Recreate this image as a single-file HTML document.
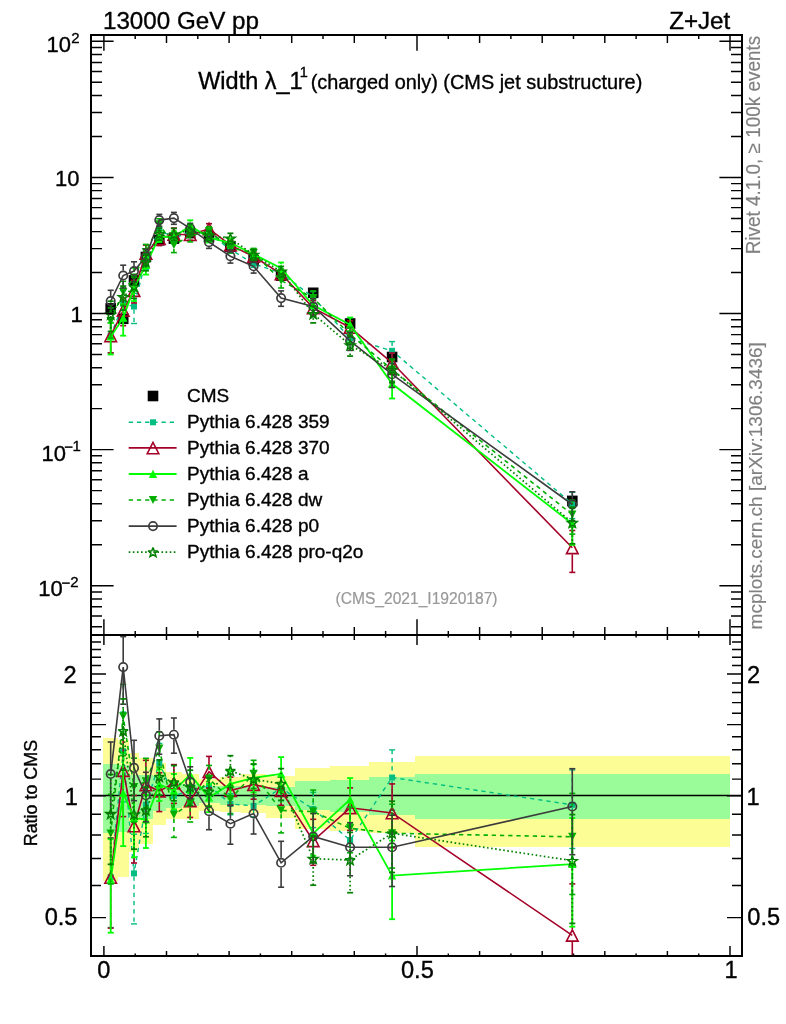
<!DOCTYPE html><html><head><meta charset="utf-8"><title>Width lambda_1^1 Z+Jet</title><style>html,body{margin:0;padding:0;background:#fff;}svg{display:block;will-change:transform;}text{stroke:#000;stroke-width:0.35px;}text.g1{stroke:#808080;stroke-width:0.15px;}text.g2{stroke:#999;stroke-width:0.2px;}</style></head><body><svg width="786" height="1024" viewBox="0 0 786 1024" font-family="'Liberation Sans', Arial, Helvetica, sans-serif">
<rect width="786" height="1024" fill="#fff"/>
<g shape-rendering="crispEdges">
<rect x="103.0" y="738.3" width="14.5" height="142.7" fill="#fdfd96"/>
<rect x="117.5" y="740.0" width="11.4" height="137.0" fill="#fdfd96"/>
<rect x="128.9" y="753.0" width="10.4" height="99.0" fill="#fdfd96"/>
<rect x="139.3" y="757.9" width="13.2" height="86.1" fill="#fdfd96"/>
<rect x="152.5" y="762.7" width="13.5" height="62.4" fill="#fdfd96"/>
<rect x="166.0" y="771.6" width="15.8" height="47.7" fill="#fdfd96"/>
<rect x="181.8" y="774.2" width="16.7" height="44.8" fill="#fdfd96"/>
<rect x="198.5" y="778.6" width="21.0" height="32.5" fill="#fdfd96"/>
<rect x="219.5" y="777.4" width="21.8" height="34.9" fill="#fdfd96"/>
<rect x="241.3" y="774.3" width="24.6" height="38.9" fill="#fdfd96"/>
<rect x="265.9" y="775.8" width="28.6" height="42.0" fill="#fdfd96"/>
<rect x="294.5" y="767.7" width="35.5" height="61.5" fill="#fdfd96"/>
<rect x="330.0" y="766.1" width="39.2" height="64.9" fill="#fdfd96"/>
<rect x="369.2" y="761.8" width="45.3" height="71.2" fill="#fdfd96"/>
<rect x="414.5" y="756.1" width="315.5" height="90.5" fill="#fdfd96"/>
<rect x="103.0" y="764.2" width="14.5" height="68.5" fill="#99fc99"/>
<rect x="117.5" y="765.0" width="11.4" height="67.0" fill="#99fc99"/>
<rect x="128.9" y="775.0" width="10.4" height="42.0" fill="#99fc99"/>
<rect x="139.3" y="774.8" width="13.2" height="43.9" fill="#99fc99"/>
<rect x="152.5" y="776.1" width="13.5" height="35.0" fill="#99fc99"/>
<rect x="166.0" y="781.6" width="15.8" height="26.3" fill="#99fc99"/>
<rect x="181.8" y="784.1" width="16.7" height="21.9" fill="#99fc99"/>
<rect x="198.5" y="786.0" width="21.0" height="17.4" fill="#99fc99"/>
<rect x="219.5" y="785.6" width="21.8" height="19.1" fill="#99fc99"/>
<rect x="241.3" y="785.7" width="24.6" height="19.1" fill="#99fc99"/>
<rect x="265.9" y="787.0" width="28.6" height="19.0" fill="#99fc99"/>
<rect x="294.5" y="780.9" width="35.5" height="29.3" fill="#99fc99"/>
<rect x="330.0" y="780.0" width="39.2" height="32.0" fill="#99fc99"/>
<rect x="369.2" y="777.1" width="45.3" height="38.1" fill="#99fc99"/>
<rect x="414.5" y="773.5" width="315.5" height="45.3" fill="#99fc99"/>
</g>
<line x1="91" y1="795.5" x2="742" y2="795.5" stroke="#000" stroke-width="1.3"/>
<defs><clipPath id="cm"><rect x="91" y="35" width="651" height="600"/></clipPath><clipPath id="cr"><rect x="91" y="635" width="651" height="321"/></clipPath></defs>
<g clip-path="url(#cm)">
<rect x="105.4" y="303.1" width="10.6" height="10.6" fill="#000"/>
<rect x="117.9" y="313.5" width="10.6" height="10.6" fill="#000"/>
<rect x="128.7" y="275.1" width="10.6" height="10.6" fill="#000"/>
<rect x="140.6" y="251.7" width="10.6" height="10.6" fill="#000"/>
<rect x="154.0" y="235.0" width="10.6" height="10.6" fill="#000"/>
<rect x="168.6" y="233.3" width="10.6" height="10.6" fill="#000"/>
<rect x="184.9" y="227.8" width="10.6" height="10.6" fill="#000"/>
<rect x="203.7" y="231.7" width="10.6" height="10.6" fill="#000"/>
<rect x="225.1" y="241.5" width="10.6" height="10.6" fill="#000"/>
<rect x="248.3" y="255.0" width="10.6" height="10.6" fill="#000"/>
<rect x="275.8" y="270.3" width="10.6" height="10.6" fill="#000"/>
<rect x="307.9" y="287.5" width="10.6" height="10.6" fill="#000"/>
<rect x="344.8" y="318.2" width="10.6" height="10.6" fill="#000"/>
<rect x="386.8" y="351.7" width="10.6" height="10.6" fill="#000"/>
<rect x="567.0" y="495.6" width="10.6" height="10.6" fill="#000"/>
<polyline points="110.7,335.7 123.2,303.8 134.0,306.5 145.9,260.1 159.3,229.4 173.9,238.6 190.2,231.3 209.0,233.5 230.4,249.5 253.6,263.7 281.1,273.0 313.2,297.3 350.1,338.4 392.1,350.8 572.3,503.9" fill="none" stroke="#00be82" stroke-width="1.4" stroke-dasharray="4.3,3.9"/>
<line x1="110.7" y1="322.5" x2="110.7" y2="332.7" stroke="#00be82" stroke-width="1.4" stroke-dasharray="4.3,3.9"/><line x1="110.7" y1="338.7" x2="110.7" y2="352.7" stroke="#00be82" stroke-width="1.4" stroke-dasharray="4.3,3.9"/><line x1="107.7" y1="322.5" x2="113.7" y2="322.5" stroke="#00be82" stroke-width="1.4"/><line x1="107.7" y1="352.7" x2="113.7" y2="352.7" stroke="#00be82" stroke-width="1.4"/>
<line x1="123.2" y1="290.6" x2="123.2" y2="300.8" stroke="#00be82" stroke-width="1.4" stroke-dasharray="4.3,3.9"/><line x1="123.2" y1="306.8" x2="123.2" y2="320.8" stroke="#00be82" stroke-width="1.4" stroke-dasharray="4.3,3.9"/><line x1="120.2" y1="290.6" x2="126.2" y2="290.6" stroke="#00be82" stroke-width="1.4"/><line x1="120.2" y1="320.8" x2="126.2" y2="320.8" stroke="#00be82" stroke-width="1.4"/>
<line x1="134.0" y1="293.3" x2="134.0" y2="303.5" stroke="#00be82" stroke-width="1.4" stroke-dasharray="4.3,3.9"/><line x1="134.0" y1="309.5" x2="134.0" y2="323.5" stroke="#00be82" stroke-width="1.4" stroke-dasharray="4.3,3.9"/><line x1="131.0" y1="293.3" x2="137.0" y2="293.3" stroke="#00be82" stroke-width="1.4"/><line x1="131.0" y1="323.5" x2="137.0" y2="323.5" stroke="#00be82" stroke-width="1.4"/>
<line x1="145.9" y1="251.8" x2="145.9" y2="257.1" stroke="#00be82" stroke-width="1.4" stroke-dasharray="4.3,3.9"/><line x1="145.9" y1="263.1" x2="145.9" y2="269.7" stroke="#00be82" stroke-width="1.4" stroke-dasharray="4.3,3.9"/><line x1="142.9" y1="251.8" x2="148.9" y2="251.8" stroke="#00be82" stroke-width="1.4"/><line x1="142.9" y1="269.7" x2="148.9" y2="269.7" stroke="#00be82" stroke-width="1.4"/>
<line x1="159.3" y1="222.7" x2="159.3" y2="226.4" stroke="#00be82" stroke-width="1.4" stroke-dasharray="4.3,3.9"/><line x1="159.3" y1="232.4" x2="159.3" y2="236.9" stroke="#00be82" stroke-width="1.4" stroke-dasharray="4.3,3.9"/><line x1="156.3" y1="222.7" x2="162.3" y2="222.7" stroke="#00be82" stroke-width="1.4"/><line x1="156.3" y1="236.9" x2="162.3" y2="236.9" stroke="#00be82" stroke-width="1.4"/>
<line x1="173.9" y1="234.1" x2="173.9" y2="235.6" stroke="#00be82" stroke-width="1.4" stroke-dasharray="4.3,3.9"/><line x1="173.9" y1="241.6" x2="173.9" y2="243.5" stroke="#00be82" stroke-width="1.4" stroke-dasharray="4.3,3.9"/><line x1="170.9" y1="234.1" x2="176.9" y2="234.1" stroke="#00be82" stroke-width="1.4"/><line x1="170.9" y1="243.5" x2="176.9" y2="243.5" stroke="#00be82" stroke-width="1.4"/>
<line x1="190.2" y1="227.3" x2="190.2" y2="228.3" stroke="#00be82" stroke-width="1.4" stroke-dasharray="4.3,3.9"/><line x1="190.2" y1="234.3" x2="190.2" y2="235.6" stroke="#00be82" stroke-width="1.4" stroke-dasharray="4.3,3.9"/><line x1="187.2" y1="227.3" x2="193.2" y2="227.3" stroke="#00be82" stroke-width="1.4"/><line x1="187.2" y1="235.6" x2="193.2" y2="235.6" stroke="#00be82" stroke-width="1.4"/>
<line x1="209.0" y1="230.1" x2="209.0" y2="230.5" stroke="#00be82" stroke-width="1.4" stroke-dasharray="4.3,3.9"/><line x1="209.0" y1="236.5" x2="209.0" y2="237.2" stroke="#00be82" stroke-width="1.4" stroke-dasharray="4.3,3.9"/><line x1="206.0" y1="230.1" x2="212.0" y2="230.1" stroke="#00be82" stroke-width="1.4"/><line x1="206.0" y1="237.2" x2="212.0" y2="237.2" stroke="#00be82" stroke-width="1.4"/>
<line x1="230.4" y1="246.1" x2="230.4" y2="246.5" stroke="#00be82" stroke-width="1.4" stroke-dasharray="4.3,3.9"/><line x1="230.4" y1="252.5" x2="230.4" y2="253.2" stroke="#00be82" stroke-width="1.4" stroke-dasharray="4.3,3.9"/><line x1="227.4" y1="246.1" x2="233.4" y2="246.1" stroke="#00be82" stroke-width="1.4"/><line x1="227.4" y1="253.2" x2="233.4" y2="253.2" stroke="#00be82" stroke-width="1.4"/>
<line x1="253.6" y1="260.3" x2="253.6" y2="260.7" stroke="#00be82" stroke-width="1.4" stroke-dasharray="4.3,3.9"/><line x1="253.6" y1="266.7" x2="253.6" y2="267.4" stroke="#00be82" stroke-width="1.4" stroke-dasharray="4.3,3.9"/><line x1="250.6" y1="260.3" x2="256.6" y2="260.3" stroke="#00be82" stroke-width="1.4"/><line x1="250.6" y1="267.4" x2="256.6" y2="267.4" stroke="#00be82" stroke-width="1.4"/>
<line x1="281.1" y1="269.0" x2="281.1" y2="270.0" stroke="#00be82" stroke-width="1.4" stroke-dasharray="4.3,3.9"/><line x1="281.1" y1="276.0" x2="281.1" y2="277.2" stroke="#00be82" stroke-width="1.4" stroke-dasharray="4.3,3.9"/><line x1="278.1" y1="269.0" x2="284.1" y2="269.0" stroke="#00be82" stroke-width="1.4"/><line x1="278.1" y1="277.2" x2="284.1" y2="277.2" stroke="#00be82" stroke-width="1.4"/>
<line x1="313.2" y1="291.6" x2="313.2" y2="294.3" stroke="#00be82" stroke-width="1.4" stroke-dasharray="4.3,3.9"/><line x1="313.2" y1="300.3" x2="313.2" y2="303.5" stroke="#00be82" stroke-width="1.4" stroke-dasharray="4.3,3.9"/><line x1="310.2" y1="291.6" x2="316.2" y2="291.6" stroke="#00be82" stroke-width="1.4"/><line x1="310.2" y1="303.5" x2="316.2" y2="303.5" stroke="#00be82" stroke-width="1.4"/>
<line x1="350.1" y1="332.7" x2="350.1" y2="335.4" stroke="#00be82" stroke-width="1.4" stroke-dasharray="4.3,3.9"/><line x1="350.1" y1="341.4" x2="350.1" y2="344.6" stroke="#00be82" stroke-width="1.4" stroke-dasharray="4.3,3.9"/><line x1="347.1" y1="332.7" x2="353.1" y2="332.7" stroke="#00be82" stroke-width="1.4"/><line x1="347.1" y1="344.6" x2="353.1" y2="344.6" stroke="#00be82" stroke-width="1.4"/>
<line x1="392.1" y1="341.6" x2="392.1" y2="347.8" stroke="#00be82" stroke-width="1.4" stroke-dasharray="4.3,3.9"/><line x1="392.1" y1="353.8" x2="392.1" y2="361.9" stroke="#00be82" stroke-width="1.4" stroke-dasharray="4.3,3.9"/><line x1="389.1" y1="341.6" x2="395.1" y2="341.6" stroke="#00be82" stroke-width="1.4"/><line x1="389.1" y1="361.9" x2="395.1" y2="361.9" stroke="#00be82" stroke-width="1.4"/>
<line x1="572.3" y1="492.2" x2="572.3" y2="500.9" stroke="#00be82" stroke-width="1.4" stroke-dasharray="4.3,3.9"/><line x1="572.3" y1="506.9" x2="572.3" y2="518.6" stroke="#00be82" stroke-width="1.4" stroke-dasharray="4.3,3.9"/><line x1="569.3" y1="492.2" x2="575.3" y2="492.2" stroke="#00be82" stroke-width="1.4"/><line x1="569.3" y1="518.6" x2="575.3" y2="518.6" stroke="#00be82" stroke-width="1.4"/>
<rect x="107.7" y="332.7" width="6.0" height="6.0" fill="#00be82"/>
<rect x="120.2" y="300.8" width="6.0" height="6.0" fill="#00be82"/>
<rect x="131.0" y="303.5" width="6.0" height="6.0" fill="#00be82"/>
<rect x="142.9" y="257.1" width="6.0" height="6.0" fill="#00be82"/>
<rect x="156.3" y="226.4" width="6.0" height="6.0" fill="#00be82"/>
<rect x="170.9" y="235.6" width="6.0" height="6.0" fill="#00be82"/>
<rect x="187.2" y="228.3" width="6.0" height="6.0" fill="#00be82"/>
<rect x="206.0" y="230.5" width="6.0" height="6.0" fill="#00be82"/>
<rect x="227.4" y="246.5" width="6.0" height="6.0" fill="#00be82"/>
<rect x="250.6" y="260.7" width="6.0" height="6.0" fill="#00be82"/>
<rect x="278.1" y="270.0" width="6.0" height="6.0" fill="#00be82"/>
<rect x="310.2" y="294.3" width="6.0" height="6.0" fill="#00be82"/>
<rect x="347.1" y="335.4" width="6.0" height="6.0" fill="#00be82"/>
<rect x="389.1" y="347.8" width="6.0" height="6.0" fill="#00be82"/>
<rect x="569.3" y="500.9" width="6.0" height="6.0" fill="#00be82"/>
<polyline points="110.7,335.9 123.2,310.3 134.0,290.6 145.9,253.4 159.3,238.7 173.9,234.3 190.2,234.7 209.0,228.8 230.4,245.1 253.6,256.5 281.1,273.8 313.2,307.9 350.1,327.5 392.1,362.8 572.3,547.8" fill="none" stroke="#a40028" stroke-width="1.6"/>
<line x1="110.7" y1="322.7" x2="110.7" y2="329.7" stroke="#a40028" stroke-width="1.6"/><line x1="110.7" y1="342.5" x2="110.7" y2="352.9" stroke="#a40028" stroke-width="1.6"/><line x1="107.7" y1="322.7" x2="113.7" y2="322.7" stroke="#a40028" stroke-width="1.6"/><line x1="107.7" y1="352.9" x2="113.7" y2="352.9" stroke="#a40028" stroke-width="1.6"/>
<line x1="123.2" y1="298.0" x2="123.2" y2="304.1" stroke="#a40028" stroke-width="1.6"/><line x1="123.2" y1="316.9" x2="123.2" y2="325.7" stroke="#a40028" stroke-width="1.6"/><line x1="120.2" y1="298.0" x2="126.2" y2="298.0" stroke="#a40028" stroke-width="1.6"/><line x1="120.2" y1="325.7" x2="126.2" y2="325.7" stroke="#a40028" stroke-width="1.6"/>
<line x1="134.0" y1="280.3" x2="134.0" y2="284.4" stroke="#a40028" stroke-width="1.6"/><line x1="134.0" y1="297.2" x2="134.0" y2="303.0" stroke="#a40028" stroke-width="1.6"/><line x1="131.0" y1="280.3" x2="137.0" y2="280.3" stroke="#a40028" stroke-width="1.6"/><line x1="131.0" y1="303.0" x2="137.0" y2="303.0" stroke="#a40028" stroke-width="1.6"/>
<line x1="145.9" y1="245.1" x2="145.9" y2="247.2" stroke="#a40028" stroke-width="1.6"/><line x1="145.9" y1="260.0" x2="145.9" y2="263.0" stroke="#a40028" stroke-width="1.6"/><line x1="142.9" y1="245.1" x2="148.9" y2="245.1" stroke="#a40028" stroke-width="1.6"/><line x1="142.9" y1="263.0" x2="148.9" y2="263.0" stroke="#a40028" stroke-width="1.6"/>
<line x1="159.3" y1="245.3" x2="159.3" y2="245.6" stroke="#a40028" stroke-width="1.6"/><line x1="156.3" y1="232.6" x2="162.3" y2="232.6" stroke="#a40028" stroke-width="1.6"/><line x1="156.3" y1="245.6" x2="162.3" y2="245.6" stroke="#a40028" stroke-width="1.6"/>
<line x1="173.9" y1="240.9" x2="173.9" y2="241.2" stroke="#a40028" stroke-width="1.6"/><line x1="170.9" y1="228.1" x2="176.9" y2="228.1" stroke="#a40028" stroke-width="1.6"/><line x1="170.9" y1="241.2" x2="176.9" y2="241.2" stroke="#a40028" stroke-width="1.6"/>
<line x1="187.2" y1="229.6" x2="193.2" y2="229.6" stroke="#a40028" stroke-width="1.6"/><line x1="187.2" y1="240.3" x2="193.2" y2="240.3" stroke="#a40028" stroke-width="1.6"/>
<line x1="206.0" y1="223.7" x2="212.0" y2="223.7" stroke="#a40028" stroke-width="1.6"/><line x1="206.0" y1="234.4" x2="212.0" y2="234.4" stroke="#a40028" stroke-width="1.6"/>
<line x1="227.4" y1="240.5" x2="233.4" y2="240.5" stroke="#a40028" stroke-width="1.6"/><line x1="227.4" y1="250.0" x2="233.4" y2="250.0" stroke="#a40028" stroke-width="1.6"/>
<line x1="250.6" y1="252.0" x2="256.6" y2="252.0" stroke="#a40028" stroke-width="1.6"/><line x1="250.6" y1="261.4" x2="256.6" y2="261.4" stroke="#a40028" stroke-width="1.6"/>
<line x1="278.1" y1="269.3" x2="284.1" y2="269.3" stroke="#a40028" stroke-width="1.6"/><line x1="278.1" y1="278.7" x2="284.1" y2="278.7" stroke="#a40028" stroke-width="1.6"/>
<line x1="313.2" y1="300.7" x2="313.2" y2="301.7" stroke="#a40028" stroke-width="1.6"/><line x1="313.2" y1="314.5" x2="313.2" y2="316.1" stroke="#a40028" stroke-width="1.6"/><line x1="310.2" y1="300.7" x2="316.2" y2="300.7" stroke="#a40028" stroke-width="1.6"/><line x1="310.2" y1="316.1" x2="316.2" y2="316.1" stroke="#a40028" stroke-width="1.6"/>
<line x1="350.1" y1="320.8" x2="350.1" y2="321.3" stroke="#a40028" stroke-width="1.6"/><line x1="350.1" y1="334.1" x2="350.1" y2="335.0" stroke="#a40028" stroke-width="1.6"/><line x1="347.1" y1="320.8" x2="353.1" y2="320.8" stroke="#a40028" stroke-width="1.6"/><line x1="347.1" y1="335.0" x2="353.1" y2="335.0" stroke="#a40028" stroke-width="1.6"/>
<line x1="392.1" y1="353.0" x2="392.1" y2="356.6" stroke="#a40028" stroke-width="1.6"/><line x1="392.1" y1="369.4" x2="392.1" y2="374.5" stroke="#a40028" stroke-width="1.6"/><line x1="389.1" y1="353.0" x2="395.1" y2="353.0" stroke="#a40028" stroke-width="1.6"/><line x1="389.1" y1="374.5" x2="395.1" y2="374.5" stroke="#a40028" stroke-width="1.6"/>
<line x1="572.3" y1="530.5" x2="572.3" y2="541.6" stroke="#a40028" stroke-width="1.6"/><line x1="572.3" y1="554.4" x2="572.3" y2="572.4" stroke="#a40028" stroke-width="1.6"/><line x1="569.3" y1="530.5" x2="575.3" y2="530.5" stroke="#a40028" stroke-width="1.6"/><line x1="569.3" y1="572.4" x2="575.3" y2="572.4" stroke="#a40028" stroke-width="1.6"/>
<polygon points="110.7,330.4 104.9,341.7 116.5,341.7" fill="none" stroke="#a40028" stroke-width="1.6"/>
<polygon points="123.2,304.8 117.4,316.1 129.0,316.1" fill="none" stroke="#a40028" stroke-width="1.6"/>
<polygon points="134.0,285.1 128.2,296.4 139.8,296.4" fill="none" stroke="#a40028" stroke-width="1.6"/>
<polygon points="145.9,247.9 140.1,259.2 151.7,259.2" fill="none" stroke="#a40028" stroke-width="1.6"/>
<polygon points="159.3,233.2 153.5,244.5 165.1,244.5" fill="none" stroke="#a40028" stroke-width="1.6"/>
<polygon points="173.9,228.8 168.1,240.1 179.7,240.1" fill="none" stroke="#a40028" stroke-width="1.6"/>
<polygon points="190.2,229.2 184.4,240.5 196.0,240.5" fill="none" stroke="#a40028" stroke-width="1.6"/>
<polygon points="209.0,223.3 203.2,234.6 214.8,234.6" fill="none" stroke="#a40028" stroke-width="1.6"/>
<polygon points="230.4,239.6 224.6,250.9 236.2,250.9" fill="none" stroke="#a40028" stroke-width="1.6"/>
<polygon points="253.6,251.0 247.8,262.3 259.4,262.3" fill="none" stroke="#a40028" stroke-width="1.6"/>
<polygon points="281.1,268.3 275.3,279.6 286.9,279.6" fill="none" stroke="#a40028" stroke-width="1.6"/>
<polygon points="313.2,302.4 307.4,313.7 319.0,313.7" fill="none" stroke="#a40028" stroke-width="1.6"/>
<polygon points="350.1,322.0 344.3,333.3 355.9,333.3" fill="none" stroke="#a40028" stroke-width="1.6"/>
<polygon points="392.1,357.3 386.3,368.6 397.9,368.6" fill="none" stroke="#a40028" stroke-width="1.6"/>
<polygon points="572.3,542.3 566.5,553.6 578.1,553.6" fill="none" stroke="#a40028" stroke-width="1.6"/>
<polyline points="110.7,336.7 123.2,317.9 134.0,287.9 145.9,265.0 159.3,236.5 173.9,236.9 190.2,225.9 209.0,237.6 230.4,242.8 253.6,254.2 281.1,268.2 313.2,305.4 350.1,324.7 392.1,383.8 572.3,523.8" fill="none" stroke="#00ff00" stroke-width="1.8"/>
<line x1="110.7" y1="323.0" x2="110.7" y2="332.5" stroke="#00ff00" stroke-width="1.8"/><line x1="110.7" y1="340.6" x2="110.7" y2="354.5" stroke="#00ff00" stroke-width="1.8"/><line x1="107.7" y1="323.0" x2="113.7" y2="323.0" stroke="#00ff00" stroke-width="1.8"/><line x1="107.7" y1="354.5" x2="113.7" y2="354.5" stroke="#00ff00" stroke-width="1.8"/>
<line x1="123.2" y1="304.2" x2="123.2" y2="313.7" stroke="#00ff00" stroke-width="1.8"/><line x1="123.2" y1="321.8" x2="123.2" y2="335.7" stroke="#00ff00" stroke-width="1.8"/><line x1="120.2" y1="304.2" x2="126.2" y2="304.2" stroke="#00ff00" stroke-width="1.8"/><line x1="120.2" y1="335.7" x2="126.2" y2="335.7" stroke="#00ff00" stroke-width="1.8"/>
<line x1="134.0" y1="277.1" x2="134.0" y2="283.7" stroke="#00ff00" stroke-width="1.8"/><line x1="134.0" y1="291.8" x2="134.0" y2="301.1" stroke="#00ff00" stroke-width="1.8"/><line x1="131.0" y1="277.1" x2="137.0" y2="277.1" stroke="#00ff00" stroke-width="1.8"/><line x1="131.0" y1="301.1" x2="137.0" y2="301.1" stroke="#00ff00" stroke-width="1.8"/>
<line x1="145.9" y1="256.7" x2="145.9" y2="260.8" stroke="#00ff00" stroke-width="1.8"/><line x1="145.9" y1="268.9" x2="145.9" y2="274.6" stroke="#00ff00" stroke-width="1.8"/><line x1="142.9" y1="256.7" x2="148.9" y2="256.7" stroke="#00ff00" stroke-width="1.8"/><line x1="142.9" y1="274.6" x2="148.9" y2="274.6" stroke="#00ff00" stroke-width="1.8"/>
<line x1="159.3" y1="231.4" x2="159.3" y2="232.3" stroke="#00ff00" stroke-width="1.8"/><line x1="159.3" y1="240.4" x2="159.3" y2="242.0" stroke="#00ff00" stroke-width="1.8"/><line x1="156.3" y1="231.4" x2="162.3" y2="231.4" stroke="#00ff00" stroke-width="1.8"/><line x1="156.3" y1="242.0" x2="162.3" y2="242.0" stroke="#00ff00" stroke-width="1.8"/>
<line x1="173.9" y1="231.3" x2="173.9" y2="232.7" stroke="#00ff00" stroke-width="1.8"/><line x1="173.9" y1="240.8" x2="173.9" y2="243.2" stroke="#00ff00" stroke-width="1.8"/><line x1="170.9" y1="231.3" x2="176.9" y2="231.3" stroke="#00ff00" stroke-width="1.8"/><line x1="170.9" y1="243.2" x2="176.9" y2="243.2" stroke="#00ff00" stroke-width="1.8"/>
<line x1="190.2" y1="220.3" x2="190.2" y2="221.7" stroke="#00ff00" stroke-width="1.8"/><line x1="190.2" y1="229.8" x2="190.2" y2="232.2" stroke="#00ff00" stroke-width="1.8"/><line x1="187.2" y1="220.3" x2="193.2" y2="220.3" stroke="#00ff00" stroke-width="1.8"/><line x1="187.2" y1="232.2" x2="193.2" y2="232.2" stroke="#00ff00" stroke-width="1.8"/>
<line x1="209.0" y1="233.0" x2="209.0" y2="233.4" stroke="#00ff00" stroke-width="1.8"/><line x1="209.0" y1="241.5" x2="209.0" y2="242.5" stroke="#00ff00" stroke-width="1.8"/><line x1="206.0" y1="233.0" x2="212.0" y2="233.0" stroke="#00ff00" stroke-width="1.8"/><line x1="206.0" y1="242.5" x2="212.0" y2="242.5" stroke="#00ff00" stroke-width="1.8"/>
<line x1="230.4" y1="238.3" x2="230.4" y2="238.6" stroke="#00ff00" stroke-width="1.8"/><line x1="230.4" y1="246.7" x2="230.4" y2="247.7" stroke="#00ff00" stroke-width="1.8"/><line x1="227.4" y1="238.3" x2="233.4" y2="238.3" stroke="#00ff00" stroke-width="1.8"/><line x1="227.4" y1="247.7" x2="233.4" y2="247.7" stroke="#00ff00" stroke-width="1.8"/>
<line x1="253.6" y1="249.7" x2="253.6" y2="250.0" stroke="#00ff00" stroke-width="1.8"/><line x1="253.6" y1="258.1" x2="253.6" y2="259.2" stroke="#00ff00" stroke-width="1.8"/><line x1="250.6" y1="249.7" x2="256.6" y2="249.7" stroke="#00ff00" stroke-width="1.8"/><line x1="250.6" y1="259.2" x2="256.6" y2="259.2" stroke="#00ff00" stroke-width="1.8"/>
<line x1="281.1" y1="262.5" x2="281.1" y2="264.0" stroke="#00ff00" stroke-width="1.8"/><line x1="281.1" y1="272.1" x2="281.1" y2="274.4" stroke="#00ff00" stroke-width="1.8"/><line x1="278.1" y1="262.5" x2="284.1" y2="262.5" stroke="#00ff00" stroke-width="1.8"/><line x1="278.1" y1="274.4" x2="284.1" y2="274.4" stroke="#00ff00" stroke-width="1.8"/>
<line x1="313.2" y1="298.7" x2="313.2" y2="301.2" stroke="#00ff00" stroke-width="1.8"/><line x1="313.2" y1="309.3" x2="313.2" y2="312.9" stroke="#00ff00" stroke-width="1.8"/><line x1="310.2" y1="298.7" x2="316.2" y2="298.7" stroke="#00ff00" stroke-width="1.8"/><line x1="310.2" y1="312.9" x2="316.2" y2="312.9" stroke="#00ff00" stroke-width="1.8"/>
<line x1="350.1" y1="317.5" x2="350.1" y2="320.5" stroke="#00ff00" stroke-width="1.8"/><line x1="350.1" y1="328.6" x2="350.1" y2="332.9" stroke="#00ff00" stroke-width="1.8"/><line x1="347.1" y1="317.5" x2="353.1" y2="317.5" stroke="#00ff00" stroke-width="1.8"/><line x1="347.1" y1="332.9" x2="353.1" y2="332.9" stroke="#00ff00" stroke-width="1.8"/>
<line x1="392.1" y1="372.1" x2="392.1" y2="379.6" stroke="#00ff00" stroke-width="1.8"/><line x1="392.1" y1="387.7" x2="392.1" y2="398.5" stroke="#00ff00" stroke-width="1.8"/><line x1="389.1" y1="372.1" x2="395.1" y2="372.1" stroke="#00ff00" stroke-width="1.8"/><line x1="389.1" y1="398.5" x2="395.1" y2="398.5" stroke="#00ff00" stroke-width="1.8"/>
<line x1="572.3" y1="508.3" x2="572.3" y2="519.6" stroke="#00ff00" stroke-width="1.8"/><line x1="572.3" y1="527.7" x2="572.3" y2="544.9" stroke="#00ff00" stroke-width="1.8"/><line x1="569.3" y1="508.3" x2="575.3" y2="508.3" stroke="#00ff00" stroke-width="1.8"/><line x1="569.3" y1="544.9" x2="575.3" y2="544.9" stroke="#00ff00" stroke-width="1.8"/>
<polygon points="110.7,332.5 106.5,340.6 114.9,340.6" fill="#00ff00"/>
<polygon points="123.2,313.7 119.0,321.8 127.4,321.8" fill="#00ff00"/>
<polygon points="134.0,283.7 129.8,291.8 138.2,291.8" fill="#00ff00"/>
<polygon points="145.9,260.8 141.7,268.9 150.1,268.9" fill="#00ff00"/>
<polygon points="159.3,232.3 155.1,240.4 163.5,240.4" fill="#00ff00"/>
<polygon points="173.9,232.7 169.7,240.8 178.1,240.8" fill="#00ff00"/>
<polygon points="190.2,221.7 186.0,229.8 194.4,229.8" fill="#00ff00"/>
<polygon points="209.0,233.4 204.8,241.5 213.2,241.5" fill="#00ff00"/>
<polygon points="230.4,238.6 226.2,246.7 234.6,246.7" fill="#00ff00"/>
<polygon points="253.6,250.0 249.4,258.1 257.8,258.1" fill="#00ff00"/>
<polygon points="281.1,264.0 276.9,272.1 285.3,272.1" fill="#00ff00"/>
<polygon points="313.2,301.2 309.0,309.3 317.4,309.3" fill="#00ff00"/>
<polygon points="350.1,320.5 345.9,328.6 354.3,328.6" fill="#00ff00"/>
<polygon points="392.1,379.6 387.9,387.7 396.3,387.7" fill="#00ff00"/>
<polygon points="572.3,519.6 568.1,527.7 576.5,527.7" fill="#00ff00"/>
<polyline points="110.7,321.1 123.2,292.1 134.0,277.5 145.9,252.1 159.3,224.4 173.9,245.0 190.2,235.7 209.0,231.3 230.4,247.9 253.6,252.9 281.1,280.5 313.2,298.1 350.1,334.4 392.1,369.6 572.3,514.7" fill="none" stroke="#00ae00" stroke-width="1.6" stroke-dasharray="4.3,3.9"/>
<line x1="110.7" y1="307.9" x2="110.7" y2="317.0" stroke="#00ae00" stroke-width="1.6" stroke-dasharray="4.3,3.9"/><line x1="110.7" y1="325.0" x2="110.7" y2="338.1" stroke="#00ae00" stroke-width="1.6" stroke-dasharray="4.3,3.9"/><line x1="107.7" y1="307.9" x2="113.7" y2="307.9" stroke="#00ae00" stroke-width="1.6"/><line x1="107.7" y1="338.1" x2="113.7" y2="338.1" stroke="#00ae00" stroke-width="1.6"/>
<line x1="123.2" y1="281.3" x2="123.2" y2="288.0" stroke="#00ae00" stroke-width="1.6" stroke-dasharray="4.3,3.9"/><line x1="123.2" y1="296.0" x2="123.2" y2="305.2" stroke="#00ae00" stroke-width="1.6" stroke-dasharray="4.3,3.9"/><line x1="120.2" y1="281.3" x2="126.2" y2="281.3" stroke="#00ae00" stroke-width="1.6"/><line x1="120.2" y1="305.2" x2="126.2" y2="305.2" stroke="#00ae00" stroke-width="1.6"/>
<line x1="134.0" y1="267.8" x2="134.0" y2="273.4" stroke="#00ae00" stroke-width="1.6" stroke-dasharray="4.3,3.9"/><line x1="134.0" y1="281.4" x2="134.0" y2="289.3" stroke="#00ae00" stroke-width="1.6" stroke-dasharray="4.3,3.9"/><line x1="131.0" y1="267.8" x2="137.0" y2="267.8" stroke="#00ae00" stroke-width="1.6"/><line x1="131.0" y1="289.3" x2="137.0" y2="289.3" stroke="#00ae00" stroke-width="1.6"/>
<line x1="145.9" y1="244.4" x2="145.9" y2="248.0" stroke="#00ae00" stroke-width="1.6" stroke-dasharray="4.3,3.9"/><line x1="145.9" y1="256.0" x2="145.9" y2="261.1" stroke="#00ae00" stroke-width="1.6" stroke-dasharray="4.3,3.9"/><line x1="142.9" y1="244.4" x2="148.9" y2="244.4" stroke="#00ae00" stroke-width="1.6"/><line x1="142.9" y1="261.1" x2="148.9" y2="261.1" stroke="#00ae00" stroke-width="1.6"/>
<line x1="159.3" y1="218.8" x2="159.3" y2="220.3" stroke="#00ae00" stroke-width="1.6" stroke-dasharray="4.3,3.9"/><line x1="159.3" y1="228.3" x2="159.3" y2="230.7" stroke="#00ae00" stroke-width="1.6" stroke-dasharray="4.3,3.9"/><line x1="156.3" y1="218.8" x2="162.3" y2="218.8" stroke="#00ae00" stroke-width="1.6"/><line x1="156.3" y1="230.7" x2="162.3" y2="230.7" stroke="#00ae00" stroke-width="1.6"/>
<line x1="173.9" y1="238.3" x2="173.9" y2="240.9" stroke="#00ae00" stroke-width="1.6" stroke-dasharray="4.3,3.9"/><line x1="173.9" y1="248.9" x2="173.9" y2="252.6" stroke="#00ae00" stroke-width="1.6" stroke-dasharray="4.3,3.9"/><line x1="170.9" y1="238.3" x2="176.9" y2="238.3" stroke="#00ae00" stroke-width="1.6"/><line x1="170.9" y1="252.6" x2="176.9" y2="252.6" stroke="#00ae00" stroke-width="1.6"/>
<line x1="190.2" y1="230.0" x2="190.2" y2="231.6" stroke="#00ae00" stroke-width="1.6" stroke-dasharray="4.3,3.9"/><line x1="190.2" y1="239.6" x2="190.2" y2="241.9" stroke="#00ae00" stroke-width="1.6" stroke-dasharray="4.3,3.9"/><line x1="187.2" y1="230.0" x2="193.2" y2="230.0" stroke="#00ae00" stroke-width="1.6"/><line x1="187.2" y1="241.9" x2="193.2" y2="241.9" stroke="#00ae00" stroke-width="1.6"/>
<line x1="209.0" y1="226.7" x2="209.0" y2="227.2" stroke="#00ae00" stroke-width="1.6" stroke-dasharray="4.3,3.9"/><line x1="209.0" y1="235.2" x2="209.0" y2="236.2" stroke="#00ae00" stroke-width="1.6" stroke-dasharray="4.3,3.9"/><line x1="206.0" y1="226.7" x2="212.0" y2="226.7" stroke="#00ae00" stroke-width="1.6"/><line x1="206.0" y1="236.2" x2="212.0" y2="236.2" stroke="#00ae00" stroke-width="1.6"/>
<line x1="230.4" y1="243.3" x2="230.4" y2="243.8" stroke="#00ae00" stroke-width="1.6" stroke-dasharray="4.3,3.9"/><line x1="230.4" y1="251.8" x2="230.4" y2="252.8" stroke="#00ae00" stroke-width="1.6" stroke-dasharray="4.3,3.9"/><line x1="227.4" y1="243.3" x2="233.4" y2="243.3" stroke="#00ae00" stroke-width="1.6"/><line x1="227.4" y1="252.8" x2="233.4" y2="252.8" stroke="#00ae00" stroke-width="1.6"/>
<line x1="253.6" y1="248.4" x2="253.6" y2="248.8" stroke="#00ae00" stroke-width="1.6" stroke-dasharray="4.3,3.9"/><line x1="253.6" y1="256.8" x2="253.6" y2="257.8" stroke="#00ae00" stroke-width="1.6" stroke-dasharray="4.3,3.9"/><line x1="250.6" y1="248.4" x2="256.6" y2="248.4" stroke="#00ae00" stroke-width="1.6"/><line x1="250.6" y1="257.8" x2="256.6" y2="257.8" stroke="#00ae00" stroke-width="1.6"/>
<line x1="281.1" y1="273.8" x2="281.1" y2="276.4" stroke="#00ae00" stroke-width="1.6" stroke-dasharray="4.3,3.9"/><line x1="281.1" y1="284.4" x2="281.1" y2="288.0" stroke="#00ae00" stroke-width="1.6" stroke-dasharray="4.3,3.9"/><line x1="278.1" y1="273.8" x2="284.1" y2="273.8" stroke="#00ae00" stroke-width="1.6"/><line x1="278.1" y1="288.0" x2="284.1" y2="288.0" stroke="#00ae00" stroke-width="1.6"/>
<line x1="313.2" y1="290.9" x2="313.2" y2="294.0" stroke="#00ae00" stroke-width="1.6" stroke-dasharray="4.3,3.9"/><line x1="313.2" y1="302.0" x2="313.2" y2="306.3" stroke="#00ae00" stroke-width="1.6" stroke-dasharray="4.3,3.9"/><line x1="310.2" y1="290.9" x2="316.2" y2="290.9" stroke="#00ae00" stroke-width="1.6"/><line x1="310.2" y1="306.3" x2="316.2" y2="306.3" stroke="#00ae00" stroke-width="1.6"/>
<line x1="350.1" y1="327.2" x2="350.1" y2="330.3" stroke="#00ae00" stroke-width="1.6" stroke-dasharray="4.3,3.9"/><line x1="350.1" y1="338.3" x2="350.1" y2="342.6" stroke="#00ae00" stroke-width="1.6" stroke-dasharray="4.3,3.9"/><line x1="347.1" y1="327.2" x2="353.1" y2="327.2" stroke="#00ae00" stroke-width="1.6"/><line x1="347.1" y1="342.6" x2="353.1" y2="342.6" stroke="#00ae00" stroke-width="1.6"/>
<line x1="392.1" y1="359.8" x2="392.1" y2="365.5" stroke="#00ae00" stroke-width="1.6" stroke-dasharray="4.3,3.9"/><line x1="392.1" y1="373.5" x2="392.1" y2="381.3" stroke="#00ae00" stroke-width="1.6" stroke-dasharray="4.3,3.9"/><line x1="389.1" y1="359.8" x2="395.1" y2="359.8" stroke="#00ae00" stroke-width="1.6"/><line x1="389.1" y1="381.3" x2="395.1" y2="381.3" stroke="#00ae00" stroke-width="1.6"/>
<line x1="572.3" y1="500.1" x2="572.3" y2="510.6" stroke="#00ae00" stroke-width="1.6" stroke-dasharray="4.3,3.9"/><line x1="572.3" y1="518.6" x2="572.3" y2="534.1" stroke="#00ae00" stroke-width="1.6" stroke-dasharray="4.3,3.9"/><line x1="569.3" y1="500.1" x2="575.3" y2="500.1" stroke="#00ae00" stroke-width="1.6"/><line x1="569.3" y1="534.1" x2="575.3" y2="534.1" stroke="#00ae00" stroke-width="1.6"/>
<polygon points="110.7,325.0 106.5,317.0 114.9,317.0" fill="#00ae00"/>
<polygon points="123.2,296.0 119.0,288.0 127.4,288.0" fill="#00ae00"/>
<polygon points="134.0,281.4 129.8,273.4 138.2,273.4" fill="#00ae00"/>
<polygon points="145.9,256.0 141.7,248.0 150.1,248.0" fill="#00ae00"/>
<polygon points="159.3,228.3 155.1,220.3 163.5,220.3" fill="#00ae00"/>
<polygon points="173.9,248.9 169.7,240.9 178.1,240.9" fill="#00ae00"/>
<polygon points="190.2,239.6 186.0,231.6 194.4,231.6" fill="#00ae00"/>
<polygon points="209.0,235.2 204.8,227.2 213.2,227.2" fill="#00ae00"/>
<polygon points="230.4,251.8 226.2,243.8 234.6,243.8" fill="#00ae00"/>
<polygon points="253.6,256.8 249.4,248.8 257.8,248.8" fill="#00ae00"/>
<polygon points="281.1,284.4 276.9,276.4 285.3,276.4" fill="#00ae00"/>
<polygon points="313.2,302.0 309.0,294.0 317.4,294.0" fill="#00ae00"/>
<polygon points="350.1,338.3 345.9,330.3 354.3,330.3" fill="#00ae00"/>
<polygon points="392.1,373.5 387.9,365.5 396.3,365.5" fill="#00ae00"/>
<polygon points="572.3,518.6 568.1,510.6 576.5,510.6" fill="#00ae00"/>
<polyline points="110.7,301.1 123.2,275.5 134.0,271.0 145.9,256.8 159.3,220.1 173.9,218.1 190.2,228.4 209.0,242.2 230.4,256.2 253.6,266.3 281.1,298.1 313.2,306.5 350.1,340.8 392.1,374.3 572.3,504.5" fill="none" stroke="#3c3c3c" stroke-width="1.6"/>
<line x1="110.7" y1="290.3" x2="110.7" y2="296.1" stroke="#3c3c3c" stroke-width="1.6"/><line x1="110.7" y1="306.1" x2="110.7" y2="314.3" stroke="#3c3c3c" stroke-width="1.6"/><line x1="107.7" y1="290.3" x2="113.7" y2="290.3" stroke="#3c3c3c" stroke-width="1.6"/><line x1="107.7" y1="314.3" x2="113.7" y2="314.3" stroke="#3c3c3c" stroke-width="1.6"/>
<line x1="123.2" y1="265.2" x2="123.2" y2="270.5" stroke="#3c3c3c" stroke-width="1.6"/><line x1="123.2" y1="280.5" x2="123.2" y2="287.9" stroke="#3c3c3c" stroke-width="1.6"/><line x1="120.2" y1="265.2" x2="126.2" y2="265.2" stroke="#3c3c3c" stroke-width="1.6"/><line x1="120.2" y1="287.9" x2="126.2" y2="287.9" stroke="#3c3c3c" stroke-width="1.6"/>
<line x1="134.0" y1="261.8" x2="134.0" y2="266.0" stroke="#3c3c3c" stroke-width="1.6"/><line x1="134.0" y1="276.0" x2="134.0" y2="282.1" stroke="#3c3c3c" stroke-width="1.6"/><line x1="131.0" y1="261.8" x2="137.0" y2="261.8" stroke="#3c3c3c" stroke-width="1.6"/><line x1="131.0" y1="282.1" x2="137.0" y2="282.1" stroke="#3c3c3c" stroke-width="1.6"/>
<line x1="145.9" y1="249.1" x2="145.9" y2="251.8" stroke="#3c3c3c" stroke-width="1.6"/><line x1="145.9" y1="261.8" x2="145.9" y2="265.8" stroke="#3c3c3c" stroke-width="1.6"/><line x1="142.9" y1="249.1" x2="148.9" y2="249.1" stroke="#3c3c3c" stroke-width="1.6"/><line x1="142.9" y1="265.8" x2="148.9" y2="265.8" stroke="#3c3c3c" stroke-width="1.6"/>
<line x1="159.3" y1="214.4" x2="159.3" y2="215.1" stroke="#3c3c3c" stroke-width="1.6"/><line x1="159.3" y1="225.1" x2="159.3" y2="226.3" stroke="#3c3c3c" stroke-width="1.6"/><line x1="156.3" y1="214.4" x2="162.3" y2="214.4" stroke="#3c3c3c" stroke-width="1.6"/><line x1="156.3" y1="226.3" x2="162.3" y2="226.3" stroke="#3c3c3c" stroke-width="1.6"/>
<line x1="173.9" y1="212.4" x2="173.9" y2="213.1" stroke="#3c3c3c" stroke-width="1.6"/><line x1="173.9" y1="223.1" x2="173.9" y2="224.3" stroke="#3c3c3c" stroke-width="1.6"/><line x1="170.9" y1="212.4" x2="176.9" y2="212.4" stroke="#3c3c3c" stroke-width="1.6"/><line x1="170.9" y1="224.3" x2="176.9" y2="224.3" stroke="#3c3c3c" stroke-width="1.6"/>
<line x1="190.2" y1="223.3" x2="190.2" y2="223.4" stroke="#3c3c3c" stroke-width="1.6"/><line x1="190.2" y1="233.4" x2="190.2" y2="234.0" stroke="#3c3c3c" stroke-width="1.6"/><line x1="187.2" y1="223.3" x2="193.2" y2="223.3" stroke="#3c3c3c" stroke-width="1.6"/><line x1="187.2" y1="234.0" x2="193.2" y2="234.0" stroke="#3c3c3c" stroke-width="1.6"/>
<line x1="209.0" y1="236.5" x2="209.0" y2="237.2" stroke="#3c3c3c" stroke-width="1.6"/><line x1="209.0" y1="247.2" x2="209.0" y2="248.4" stroke="#3c3c3c" stroke-width="1.6"/><line x1="206.0" y1="236.5" x2="212.0" y2="236.5" stroke="#3c3c3c" stroke-width="1.6"/><line x1="206.0" y1="248.4" x2="212.0" y2="248.4" stroke="#3c3c3c" stroke-width="1.6"/>
<line x1="230.4" y1="250.0" x2="230.4" y2="251.2" stroke="#3c3c3c" stroke-width="1.6"/><line x1="230.4" y1="261.2" x2="230.4" y2="263.1" stroke="#3c3c3c" stroke-width="1.6"/><line x1="227.4" y1="250.0" x2="233.4" y2="250.0" stroke="#3c3c3c" stroke-width="1.6"/><line x1="227.4" y1="263.1" x2="233.4" y2="263.1" stroke="#3c3c3c" stroke-width="1.6"/>
<line x1="253.6" y1="260.1" x2="253.6" y2="261.3" stroke="#3c3c3c" stroke-width="1.6"/><line x1="253.6" y1="271.3" x2="253.6" y2="273.1" stroke="#3c3c3c" stroke-width="1.6"/><line x1="250.6" y1="260.1" x2="256.6" y2="260.1" stroke="#3c3c3c" stroke-width="1.6"/><line x1="250.6" y1="273.1" x2="256.6" y2="273.1" stroke="#3c3c3c" stroke-width="1.6"/>
<line x1="281.1" y1="290.9" x2="281.1" y2="293.1" stroke="#3c3c3c" stroke-width="1.6"/><line x1="281.1" y1="303.1" x2="281.1" y2="306.3" stroke="#3c3c3c" stroke-width="1.6"/><line x1="278.1" y1="290.9" x2="284.1" y2="290.9" stroke="#3c3c3c" stroke-width="1.6"/><line x1="278.1" y1="306.3" x2="284.1" y2="306.3" stroke="#3c3c3c" stroke-width="1.6"/>
<line x1="313.2" y1="298.7" x2="313.2" y2="301.5" stroke="#3c3c3c" stroke-width="1.6"/><line x1="313.2" y1="311.5" x2="313.2" y2="315.4" stroke="#3c3c3c" stroke-width="1.6"/><line x1="310.2" y1="298.7" x2="316.2" y2="298.7" stroke="#3c3c3c" stroke-width="1.6"/><line x1="310.2" y1="315.4" x2="316.2" y2="315.4" stroke="#3c3c3c" stroke-width="1.6"/>
<line x1="350.1" y1="332.5" x2="350.1" y2="335.8" stroke="#3c3c3c" stroke-width="1.6"/><line x1="350.1" y1="345.8" x2="350.1" y2="350.4" stroke="#3c3c3c" stroke-width="1.6"/><line x1="347.1" y1="332.5" x2="353.1" y2="332.5" stroke="#3c3c3c" stroke-width="1.6"/><line x1="347.1" y1="350.4" x2="353.1" y2="350.4" stroke="#3c3c3c" stroke-width="1.6"/>
<line x1="392.1" y1="363.6" x2="392.1" y2="369.3" stroke="#3c3c3c" stroke-width="1.6"/><line x1="392.1" y1="379.3" x2="392.1" y2="387.5" stroke="#3c3c3c" stroke-width="1.6"/><line x1="389.1" y1="363.6" x2="395.1" y2="363.6" stroke="#3c3c3c" stroke-width="1.6"/><line x1="389.1" y1="387.5" x2="395.1" y2="387.5" stroke="#3c3c3c" stroke-width="1.6"/>
<line x1="572.3" y1="491.8" x2="572.3" y2="499.5" stroke="#3c3c3c" stroke-width="1.6"/><line x1="572.3" y1="509.5" x2="572.3" y2="520.7" stroke="#3c3c3c" stroke-width="1.6"/><line x1="569.3" y1="491.8" x2="575.3" y2="491.8" stroke="#3c3c3c" stroke-width="1.6"/><line x1="569.3" y1="520.7" x2="575.3" y2="520.7" stroke="#3c3c3c" stroke-width="1.6"/>
<circle cx="110.7" cy="301.1" r="4.2" fill="none" stroke="#3c3c3c" stroke-width="1.7"/>
<circle cx="123.2" cy="275.5" r="4.2" fill="none" stroke="#3c3c3c" stroke-width="1.7"/>
<circle cx="134.0" cy="271.0" r="4.2" fill="none" stroke="#3c3c3c" stroke-width="1.7"/>
<circle cx="145.9" cy="256.8" r="4.2" fill="none" stroke="#3c3c3c" stroke-width="1.7"/>
<circle cx="159.3" cy="220.1" r="4.2" fill="none" stroke="#3c3c3c" stroke-width="1.7"/>
<circle cx="173.9" cy="218.1" r="4.2" fill="none" stroke="#3c3c3c" stroke-width="1.7"/>
<circle cx="190.2" cy="228.4" r="4.2" fill="none" stroke="#3c3c3c" stroke-width="1.7"/>
<circle cx="209.0" cy="242.2" r="4.2" fill="none" stroke="#3c3c3c" stroke-width="1.7"/>
<circle cx="230.4" cy="256.2" r="4.2" fill="none" stroke="#3c3c3c" stroke-width="1.7"/>
<circle cx="253.6" cy="266.3" r="4.2" fill="none" stroke="#3c3c3c" stroke-width="1.7"/>
<circle cx="281.1" cy="298.1" r="4.2" fill="none" stroke="#3c3c3c" stroke-width="1.7"/>
<circle cx="313.2" cy="306.5" r="4.2" fill="none" stroke="#3c3c3c" stroke-width="1.7"/>
<circle cx="350.1" cy="340.8" r="4.2" fill="none" stroke="#3c3c3c" stroke-width="1.7"/>
<circle cx="392.1" cy="374.3" r="4.2" fill="none" stroke="#3c3c3c" stroke-width="1.7"/>
<circle cx="572.3" cy="504.5" r="4.2" fill="none" stroke="#3c3c3c" stroke-width="1.7"/>
<polyline points="110.7,314.4 123.2,296.9 134.0,286.7 145.9,261.9 159.3,233.9 173.9,234.1 190.2,230.1 209.0,235.5 230.4,238.4 253.6,254.7 281.1,271.5 313.2,313.9 350.1,345.0 392.1,369.6 572.3,522.7" fill="none" stroke="#008000" stroke-width="1.7" stroke-dasharray="1.6,2.5"/>
<line x1="110.7" y1="301.2" x2="110.7" y2="309.2" stroke="#008000" stroke-width="1.7" stroke-dasharray="1.6,2.5"/><line x1="110.7" y1="318.7" x2="110.7" y2="331.4" stroke="#008000" stroke-width="1.7" stroke-dasharray="1.6,2.5"/><line x1="107.7" y1="301.2" x2="113.7" y2="301.2" stroke="#008000" stroke-width="1.7"/><line x1="107.7" y1="331.4" x2="113.7" y2="331.4" stroke="#008000" stroke-width="1.7"/>
<line x1="123.2" y1="286.1" x2="123.2" y2="291.7" stroke="#008000" stroke-width="1.7" stroke-dasharray="1.6,2.5"/><line x1="123.2" y1="301.2" x2="123.2" y2="310.1" stroke="#008000" stroke-width="1.7" stroke-dasharray="1.6,2.5"/><line x1="120.2" y1="286.1" x2="126.2" y2="286.1" stroke="#008000" stroke-width="1.7"/><line x1="120.2" y1="310.1" x2="126.2" y2="310.1" stroke="#008000" stroke-width="1.7"/>
<line x1="134.0" y1="276.9" x2="134.0" y2="281.5" stroke="#008000" stroke-width="1.7" stroke-dasharray="1.6,2.5"/><line x1="134.0" y1="291.0" x2="134.0" y2="298.4" stroke="#008000" stroke-width="1.7" stroke-dasharray="1.6,2.5"/><line x1="131.0" y1="276.9" x2="137.0" y2="276.9" stroke="#008000" stroke-width="1.7"/><line x1="131.0" y1="298.4" x2="137.0" y2="298.4" stroke="#008000" stroke-width="1.7"/>
<line x1="145.9" y1="254.1" x2="145.9" y2="256.7" stroke="#008000" stroke-width="1.7" stroke-dasharray="1.6,2.5"/><line x1="145.9" y1="266.2" x2="145.9" y2="270.8" stroke="#008000" stroke-width="1.7" stroke-dasharray="1.6,2.5"/><line x1="142.9" y1="254.1" x2="148.9" y2="254.1" stroke="#008000" stroke-width="1.7"/><line x1="142.9" y1="270.8" x2="148.9" y2="270.8" stroke="#008000" stroke-width="1.7"/>
<line x1="159.3" y1="228.2" x2="159.3" y2="228.7" stroke="#008000" stroke-width="1.7" stroke-dasharray="1.6,2.5"/><line x1="159.3" y1="238.2" x2="159.3" y2="240.1" stroke="#008000" stroke-width="1.7" stroke-dasharray="1.6,2.5"/><line x1="156.3" y1="228.2" x2="162.3" y2="228.2" stroke="#008000" stroke-width="1.7"/><line x1="156.3" y1="240.1" x2="162.3" y2="240.1" stroke="#008000" stroke-width="1.7"/>
<line x1="173.9" y1="228.4" x2="173.9" y2="228.9" stroke="#008000" stroke-width="1.7" stroke-dasharray="1.6,2.5"/><line x1="173.9" y1="238.4" x2="173.9" y2="240.3" stroke="#008000" stroke-width="1.7" stroke-dasharray="1.6,2.5"/><line x1="170.9" y1="228.4" x2="176.9" y2="228.4" stroke="#008000" stroke-width="1.7"/><line x1="170.9" y1="240.3" x2="176.9" y2="240.3" stroke="#008000" stroke-width="1.7"/>
<line x1="190.2" y1="224.4" x2="190.2" y2="224.9" stroke="#008000" stroke-width="1.7" stroke-dasharray="1.6,2.5"/><line x1="190.2" y1="234.4" x2="190.2" y2="236.3" stroke="#008000" stroke-width="1.7" stroke-dasharray="1.6,2.5"/><line x1="187.2" y1="224.4" x2="193.2" y2="224.4" stroke="#008000" stroke-width="1.7"/><line x1="187.2" y1="236.3" x2="193.2" y2="236.3" stroke="#008000" stroke-width="1.7"/>
<line x1="209.0" y1="239.8" x2="209.0" y2="240.4" stroke="#008000" stroke-width="1.7" stroke-dasharray="1.6,2.5"/><line x1="206.0" y1="231.0" x2="212.0" y2="231.0" stroke="#008000" stroke-width="1.7"/><line x1="206.0" y1="240.4" x2="212.0" y2="240.4" stroke="#008000" stroke-width="1.7"/>
<line x1="230.4" y1="242.7" x2="230.4" y2="244.0" stroke="#008000" stroke-width="1.7" stroke-dasharray="1.6,2.5"/><line x1="227.4" y1="233.3" x2="233.4" y2="233.3" stroke="#008000" stroke-width="1.7"/><line x1="227.4" y1="244.0" x2="233.4" y2="244.0" stroke="#008000" stroke-width="1.7"/>
<line x1="253.6" y1="259.0" x2="253.6" y2="260.3" stroke="#008000" stroke-width="1.7" stroke-dasharray="1.6,2.5"/><line x1="250.6" y1="249.6" x2="256.6" y2="249.6" stroke="#008000" stroke-width="1.7"/><line x1="250.6" y1="260.3" x2="256.6" y2="260.3" stroke="#008000" stroke-width="1.7"/>
<line x1="281.1" y1="275.8" x2="281.1" y2="277.1" stroke="#008000" stroke-width="1.7" stroke-dasharray="1.6,2.5"/><line x1="278.1" y1="266.4" x2="284.1" y2="266.4" stroke="#008000" stroke-width="1.7"/><line x1="278.1" y1="277.1" x2="284.1" y2="277.1" stroke="#008000" stroke-width="1.7"/>
<line x1="313.2" y1="306.2" x2="313.2" y2="308.7" stroke="#008000" stroke-width="1.7" stroke-dasharray="1.6,2.5"/><line x1="313.2" y1="318.2" x2="313.2" y2="322.9" stroke="#008000" stroke-width="1.7" stroke-dasharray="1.6,2.5"/><line x1="310.2" y1="306.2" x2="316.2" y2="306.2" stroke="#008000" stroke-width="1.7"/><line x1="310.2" y1="322.9" x2="316.2" y2="322.9" stroke="#008000" stroke-width="1.7"/>
<line x1="350.1" y1="335.8" x2="350.1" y2="339.8" stroke="#008000" stroke-width="1.7" stroke-dasharray="1.6,2.5"/><line x1="350.1" y1="349.3" x2="350.1" y2="356.1" stroke="#008000" stroke-width="1.7" stroke-dasharray="1.6,2.5"/><line x1="347.1" y1="335.8" x2="353.1" y2="335.8" stroke="#008000" stroke-width="1.7"/><line x1="347.1" y1="356.1" x2="353.1" y2="356.1" stroke="#008000" stroke-width="1.7"/>
<line x1="392.1" y1="358.8" x2="392.1" y2="364.4" stroke="#008000" stroke-width="1.7" stroke-dasharray="1.6,2.5"/><line x1="392.1" y1="373.9" x2="392.1" y2="382.8" stroke="#008000" stroke-width="1.7" stroke-dasharray="1.6,2.5"/><line x1="389.1" y1="358.8" x2="395.1" y2="358.8" stroke="#008000" stroke-width="1.7"/><line x1="389.1" y1="382.8" x2="395.1" y2="382.8" stroke="#008000" stroke-width="1.7"/>
<line x1="572.3" y1="507.2" x2="572.3" y2="517.5" stroke="#008000" stroke-width="1.7" stroke-dasharray="1.6,2.5"/><line x1="572.3" y1="527.0" x2="572.3" y2="543.8" stroke="#008000" stroke-width="1.7" stroke-dasharray="1.6,2.5"/><line x1="569.3" y1="507.2" x2="575.3" y2="507.2" stroke="#008000" stroke-width="1.7"/><line x1="569.3" y1="543.8" x2="575.3" y2="543.8" stroke="#008000" stroke-width="1.7"/>
<polygon points="110.7,309.7 111.9,313.1 115.6,313.3 112.7,315.5 113.7,319.0 110.7,316.9 107.7,319.0 108.7,315.5 105.8,313.3 109.5,313.1" fill="none" stroke="#008000" stroke-width="1.5" stroke-linejoin="miter" stroke-miterlimit="3"/>
<polygon points="123.2,292.2 124.4,295.6 128.1,295.7 125.2,298.0 126.2,301.4 123.2,299.4 120.2,301.4 121.2,298.0 118.3,295.7 122.0,295.6" fill="none" stroke="#008000" stroke-width="1.5" stroke-linejoin="miter" stroke-miterlimit="3"/>
<polygon points="134.0,282.0 135.2,285.4 138.9,285.5 136.0,287.7 137.0,291.2 134.0,289.2 131.0,291.2 132.0,287.7 129.1,285.5 132.8,285.4" fill="none" stroke="#008000" stroke-width="1.5" stroke-linejoin="miter" stroke-miterlimit="3"/>
<polygon points="145.9,257.2 147.1,260.6 150.8,260.7 147.9,262.9 148.9,266.4 145.9,264.4 142.9,266.4 143.9,262.9 141.0,260.7 144.7,260.6" fill="none" stroke="#008000" stroke-width="1.5" stroke-linejoin="miter" stroke-miterlimit="3"/>
<polygon points="159.3,229.2 160.5,232.6 164.2,232.7 161.3,234.9 162.3,238.4 159.3,236.4 156.3,238.4 157.3,234.9 154.4,232.7 158.1,232.6" fill="none" stroke="#008000" stroke-width="1.5" stroke-linejoin="miter" stroke-miterlimit="3"/>
<polygon points="173.9,229.4 175.1,232.8 178.8,232.9 175.9,235.1 176.9,238.6 173.9,236.6 170.9,238.6 171.9,235.1 169.0,232.9 172.7,232.8" fill="none" stroke="#008000" stroke-width="1.5" stroke-linejoin="miter" stroke-miterlimit="3"/>
<polygon points="190.2,225.4 191.4,228.8 195.1,228.9 192.2,231.1 193.2,234.6 190.2,232.6 187.2,234.6 188.2,231.1 185.3,228.9 189.0,228.8" fill="none" stroke="#008000" stroke-width="1.5" stroke-linejoin="miter" stroke-miterlimit="3"/>
<polygon points="209.0,230.8 210.2,234.2 213.9,234.3 211.0,236.6 212.0,240.0 209.0,238.0 206.0,240.0 207.0,236.6 204.1,234.3 207.8,234.2" fill="none" stroke="#008000" stroke-width="1.5" stroke-linejoin="miter" stroke-miterlimit="3"/>
<polygon points="230.4,233.7 231.6,237.1 235.3,237.2 232.4,239.5 233.4,242.9 230.4,240.9 227.4,242.9 228.4,239.5 225.5,237.2 229.2,237.1" fill="none" stroke="#008000" stroke-width="1.5" stroke-linejoin="miter" stroke-miterlimit="3"/>
<polygon points="253.6,250.0 254.8,253.4 258.5,253.5 255.6,255.8 256.6,259.2 253.6,257.2 250.6,259.2 251.6,255.8 248.7,253.5 252.4,253.4" fill="none" stroke="#008000" stroke-width="1.5" stroke-linejoin="miter" stroke-miterlimit="3"/>
<polygon points="281.1,266.8 282.3,270.2 286.0,270.3 283.1,272.6 284.1,276.0 281.1,274.0 278.1,276.0 279.1,272.6 276.2,270.3 279.9,270.2" fill="none" stroke="#008000" stroke-width="1.5" stroke-linejoin="miter" stroke-miterlimit="3"/>
<polygon points="313.2,309.2 314.4,312.6 318.1,312.8 315.2,315.0 316.2,318.5 313.2,316.4 310.2,318.5 311.2,315.0 308.3,312.8 312.0,312.6" fill="none" stroke="#008000" stroke-width="1.5" stroke-linejoin="miter" stroke-miterlimit="3"/>
<polygon points="350.1,340.3 351.3,343.7 355.0,343.9 352.1,346.1 353.1,349.6 350.1,347.5 347.1,349.6 348.1,346.1 345.2,343.9 348.9,343.7" fill="none" stroke="#008000" stroke-width="1.5" stroke-linejoin="miter" stroke-miterlimit="3"/>
<polygon points="392.1,364.9 393.3,368.3 397.0,368.4 394.1,370.7 395.1,374.1 392.1,372.1 389.1,374.1 390.1,370.7 387.2,368.4 390.9,368.3" fill="none" stroke="#008000" stroke-width="1.5" stroke-linejoin="miter" stroke-miterlimit="3"/>
<polygon points="572.3,518.0 573.5,521.4 577.2,521.5 574.3,523.8 575.3,527.2 572.3,525.2 569.3,527.2 570.3,523.8 567.4,521.5 571.1,521.4" fill="none" stroke="#008000" stroke-width="1.5" stroke-linejoin="miter" stroke-miterlimit="3"/>
</g>
<g clip-path="url(#cr)">
<polyline points="110.7,877.0 123.2,751.3 134.0,873.4 145.9,804.8 159.3,763.3 173.9,795.8 190.2,790.6 209.0,785.6 230.4,803.9 253.6,805.9 281.1,788.1 313.2,809.1 350.1,840.1 392.1,777.5 572.3,804.8" fill="none" stroke="#00be82" stroke-width="1.4" stroke-dasharray="4.3,3.9"/>
<line x1="110.7" y1="837.8" x2="110.7" y2="874.0" stroke="#00be82" stroke-width="1.4" stroke-dasharray="4.3,3.9"/><line x1="110.7" y1="880.0" x2="110.7" y2="927.5" stroke="#00be82" stroke-width="1.4" stroke-dasharray="4.3,3.9"/><line x1="107.7" y1="837.8" x2="113.7" y2="837.8" stroke="#00be82" stroke-width="1.4"/><line x1="107.7" y1="927.5" x2="113.7" y2="927.5" stroke="#00be82" stroke-width="1.4"/>
<line x1="123.2" y1="712.1" x2="123.2" y2="748.3" stroke="#00be82" stroke-width="1.4" stroke-dasharray="4.3,3.9"/><line x1="123.2" y1="754.3" x2="123.2" y2="801.9" stroke="#00be82" stroke-width="1.4" stroke-dasharray="4.3,3.9"/><line x1="120.2" y1="712.1" x2="126.2" y2="712.1" stroke="#00be82" stroke-width="1.4"/><line x1="120.2" y1="801.9" x2="126.2" y2="801.9" stroke="#00be82" stroke-width="1.4"/>
<line x1="134.0" y1="834.2" x2="134.0" y2="870.4" stroke="#00be82" stroke-width="1.4" stroke-dasharray="4.3,3.9"/><line x1="134.0" y1="876.4" x2="134.0" y2="923.9" stroke="#00be82" stroke-width="1.4" stroke-dasharray="4.3,3.9"/><line x1="131.0" y1="834.2" x2="137.0" y2="834.2" stroke="#00be82" stroke-width="1.4"/><line x1="131.0" y1="923.9" x2="137.0" y2="923.9" stroke="#00be82" stroke-width="1.4"/>
<line x1="145.9" y1="780.3" x2="145.9" y2="801.8" stroke="#00be82" stroke-width="1.4" stroke-dasharray="4.3,3.9"/><line x1="145.9" y1="807.8" x2="145.9" y2="833.4" stroke="#00be82" stroke-width="1.4" stroke-dasharray="4.3,3.9"/><line x1="142.9" y1="780.3" x2="148.9" y2="780.3" stroke="#00be82" stroke-width="1.4"/><line x1="142.9" y1="833.4" x2="148.9" y2="833.4" stroke="#00be82" stroke-width="1.4"/>
<line x1="159.3" y1="743.4" x2="159.3" y2="760.3" stroke="#00be82" stroke-width="1.4" stroke-dasharray="4.3,3.9"/><line x1="159.3" y1="766.3" x2="159.3" y2="785.8" stroke="#00be82" stroke-width="1.4" stroke-dasharray="4.3,3.9"/><line x1="156.3" y1="743.4" x2="162.3" y2="743.4" stroke="#00be82" stroke-width="1.4"/><line x1="156.3" y1="785.8" x2="162.3" y2="785.8" stroke="#00be82" stroke-width="1.4"/>
<line x1="173.9" y1="782.3" x2="173.9" y2="792.8" stroke="#00be82" stroke-width="1.4" stroke-dasharray="4.3,3.9"/><line x1="173.9" y1="798.8" x2="173.9" y2="810.4" stroke="#00be82" stroke-width="1.4" stroke-dasharray="4.3,3.9"/><line x1="170.9" y1="782.3" x2="176.9" y2="782.3" stroke="#00be82" stroke-width="1.4"/><line x1="170.9" y1="810.4" x2="176.9" y2="810.4" stroke="#00be82" stroke-width="1.4"/>
<line x1="190.2" y1="778.7" x2="190.2" y2="787.6" stroke="#00be82" stroke-width="1.4" stroke-dasharray="4.3,3.9"/><line x1="190.2" y1="793.6" x2="190.2" y2="803.4" stroke="#00be82" stroke-width="1.4" stroke-dasharray="4.3,3.9"/><line x1="187.2" y1="778.7" x2="193.2" y2="778.7" stroke="#00be82" stroke-width="1.4"/><line x1="187.2" y1="803.4" x2="193.2" y2="803.4" stroke="#00be82" stroke-width="1.4"/>
<line x1="209.0" y1="775.3" x2="209.0" y2="782.6" stroke="#00be82" stroke-width="1.4" stroke-dasharray="4.3,3.9"/><line x1="209.0" y1="788.6" x2="209.0" y2="796.4" stroke="#00be82" stroke-width="1.4" stroke-dasharray="4.3,3.9"/><line x1="206.0" y1="775.3" x2="212.0" y2="775.3" stroke="#00be82" stroke-width="1.4"/><line x1="206.0" y1="796.4" x2="212.0" y2="796.4" stroke="#00be82" stroke-width="1.4"/>
<line x1="230.4" y1="793.7" x2="230.4" y2="800.9" stroke="#00be82" stroke-width="1.4" stroke-dasharray="4.3,3.9"/><line x1="230.4" y1="806.9" x2="230.4" y2="814.8" stroke="#00be82" stroke-width="1.4" stroke-dasharray="4.3,3.9"/><line x1="227.4" y1="793.7" x2="233.4" y2="793.7" stroke="#00be82" stroke-width="1.4"/><line x1="227.4" y1="814.8" x2="233.4" y2="814.8" stroke="#00be82" stroke-width="1.4"/>
<line x1="253.6" y1="795.7" x2="253.6" y2="802.9" stroke="#00be82" stroke-width="1.4" stroke-dasharray="4.3,3.9"/><line x1="253.6" y1="808.9" x2="253.6" y2="816.8" stroke="#00be82" stroke-width="1.4" stroke-dasharray="4.3,3.9"/><line x1="250.6" y1="795.7" x2="256.6" y2="795.7" stroke="#00be82" stroke-width="1.4"/><line x1="250.6" y1="816.8" x2="256.6" y2="816.8" stroke="#00be82" stroke-width="1.4"/>
<line x1="281.1" y1="776.2" x2="281.1" y2="785.1" stroke="#00be82" stroke-width="1.4" stroke-dasharray="4.3,3.9"/><line x1="281.1" y1="791.1" x2="281.1" y2="800.8" stroke="#00be82" stroke-width="1.4" stroke-dasharray="4.3,3.9"/><line x1="278.1" y1="776.2" x2="284.1" y2="776.2" stroke="#00be82" stroke-width="1.4"/><line x1="278.1" y1="800.8" x2="284.1" y2="800.8" stroke="#00be82" stroke-width="1.4"/>
<line x1="313.2" y1="792.4" x2="313.2" y2="806.1" stroke="#00be82" stroke-width="1.4" stroke-dasharray="4.3,3.9"/><line x1="313.2" y1="812.1" x2="313.2" y2="827.6" stroke="#00be82" stroke-width="1.4" stroke-dasharray="4.3,3.9"/><line x1="310.2" y1="792.4" x2="316.2" y2="792.4" stroke="#00be82" stroke-width="1.4"/><line x1="310.2" y1="827.6" x2="316.2" y2="827.6" stroke="#00be82" stroke-width="1.4"/>
<line x1="350.1" y1="823.4" x2="350.1" y2="837.1" stroke="#00be82" stroke-width="1.4" stroke-dasharray="4.3,3.9"/><line x1="350.1" y1="843.1" x2="350.1" y2="858.6" stroke="#00be82" stroke-width="1.4" stroke-dasharray="4.3,3.9"/><line x1="347.1" y1="823.4" x2="353.1" y2="823.4" stroke="#00be82" stroke-width="1.4"/><line x1="347.1" y1="858.6" x2="353.1" y2="858.6" stroke="#00be82" stroke-width="1.4"/>
<line x1="392.1" y1="749.9" x2="392.1" y2="774.5" stroke="#00be82" stroke-width="1.4" stroke-dasharray="4.3,3.9"/><line x1="392.1" y1="780.5" x2="392.1" y2="810.2" stroke="#00be82" stroke-width="1.4" stroke-dasharray="4.3,3.9"/><line x1="389.1" y1="749.9" x2="395.1" y2="749.9" stroke="#00be82" stroke-width="1.4"/><line x1="389.1" y1="810.2" x2="395.1" y2="810.2" stroke="#00be82" stroke-width="1.4"/>
<line x1="572.3" y1="769.9" x2="572.3" y2="801.8" stroke="#00be82" stroke-width="1.4" stroke-dasharray="4.3,3.9"/><line x1="572.3" y1="807.8" x2="572.3" y2="848.5" stroke="#00be82" stroke-width="1.4" stroke-dasharray="4.3,3.9"/><line x1="569.3" y1="769.9" x2="575.3" y2="769.9" stroke="#00be82" stroke-width="1.4"/><line x1="569.3" y1="848.5" x2="575.3" y2="848.5" stroke="#00be82" stroke-width="1.4"/>
<rect x="107.7" y="874.0" width="6.0" height="6.0" fill="#00be82"/>
<rect x="120.2" y="748.3" width="6.0" height="6.0" fill="#00be82"/>
<rect x="131.0" y="870.4" width="6.0" height="6.0" fill="#00be82"/>
<rect x="142.9" y="801.8" width="6.0" height="6.0" fill="#00be82"/>
<rect x="156.3" y="760.3" width="6.0" height="6.0" fill="#00be82"/>
<rect x="170.9" y="792.8" width="6.0" height="6.0" fill="#00be82"/>
<rect x="187.2" y="787.6" width="6.0" height="6.0" fill="#00be82"/>
<rect x="206.0" y="782.6" width="6.0" height="6.0" fill="#00be82"/>
<rect x="227.4" y="800.9" width="6.0" height="6.0" fill="#00be82"/>
<rect x="250.6" y="802.9" width="6.0" height="6.0" fill="#00be82"/>
<rect x="278.1" y="785.1" width="6.0" height="6.0" fill="#00be82"/>
<rect x="310.2" y="806.1" width="6.0" height="6.0" fill="#00be82"/>
<rect x="347.1" y="837.1" width="6.0" height="6.0" fill="#00be82"/>
<rect x="389.1" y="774.5" width="6.0" height="6.0" fill="#00be82"/>
<rect x="569.3" y="801.8" width="6.0" height="6.0" fill="#00be82"/>
<polyline points="110.7,877.5 123.2,770.6 134.0,826.0 145.9,784.9 159.3,791.1 173.9,782.9 190.2,800.8 209.0,771.6 230.4,790.6 253.6,784.6 281.1,790.6 313.2,840.8 350.1,807.8 392.1,812.9 572.3,935.3" fill="none" stroke="#a40028" stroke-width="1.6"/>
<line x1="110.7" y1="838.3" x2="110.7" y2="871.3" stroke="#a40028" stroke-width="1.6"/><line x1="110.7" y1="884.1" x2="110.7" y2="928.1" stroke="#a40028" stroke-width="1.6"/><line x1="107.7" y1="838.3" x2="113.7" y2="838.3" stroke="#a40028" stroke-width="1.6"/><line x1="107.7" y1="928.1" x2="113.7" y2="928.1" stroke="#a40028" stroke-width="1.6"/>
<line x1="123.2" y1="734.3" x2="123.2" y2="764.4" stroke="#a40028" stroke-width="1.6"/><line x1="123.2" y1="777.2" x2="123.2" y2="816.6" stroke="#a40028" stroke-width="1.6"/><line x1="120.2" y1="734.3" x2="126.2" y2="734.3" stroke="#a40028" stroke-width="1.6"/><line x1="120.2" y1="816.6" x2="126.2" y2="816.6" stroke="#a40028" stroke-width="1.6"/>
<line x1="134.0" y1="795.5" x2="134.0" y2="819.8" stroke="#a40028" stroke-width="1.6"/><line x1="134.0" y1="832.6" x2="134.0" y2="863.0" stroke="#a40028" stroke-width="1.6"/><line x1="131.0" y1="795.5" x2="137.0" y2="795.5" stroke="#a40028" stroke-width="1.6"/><line x1="131.0" y1="863.0" x2="137.0" y2="863.0" stroke="#a40028" stroke-width="1.6"/>
<line x1="145.9" y1="760.3" x2="145.9" y2="778.7" stroke="#a40028" stroke-width="1.6"/><line x1="145.9" y1="791.5" x2="145.9" y2="813.5" stroke="#a40028" stroke-width="1.6"/><line x1="142.9" y1="760.3" x2="148.9" y2="760.3" stroke="#a40028" stroke-width="1.6"/><line x1="142.9" y1="813.5" x2="148.9" y2="813.5" stroke="#a40028" stroke-width="1.6"/>
<line x1="159.3" y1="772.8" x2="159.3" y2="784.9" stroke="#a40028" stroke-width="1.6"/><line x1="159.3" y1="797.7" x2="159.3" y2="811.6" stroke="#a40028" stroke-width="1.6"/><line x1="156.3" y1="772.8" x2="162.3" y2="772.8" stroke="#a40028" stroke-width="1.6"/><line x1="156.3" y1="811.6" x2="162.3" y2="811.6" stroke="#a40028" stroke-width="1.6"/>
<line x1="173.9" y1="764.6" x2="173.9" y2="776.7" stroke="#a40028" stroke-width="1.6"/><line x1="173.9" y1="789.5" x2="173.9" y2="803.4" stroke="#a40028" stroke-width="1.6"/><line x1="170.9" y1="764.6" x2="176.9" y2="764.6" stroke="#a40028" stroke-width="1.6"/><line x1="170.9" y1="803.4" x2="176.9" y2="803.4" stroke="#a40028" stroke-width="1.6"/>
<line x1="190.2" y1="785.6" x2="190.2" y2="794.6" stroke="#a40028" stroke-width="1.6"/><line x1="190.2" y1="807.4" x2="190.2" y2="817.4" stroke="#a40028" stroke-width="1.6"/><line x1="187.2" y1="785.6" x2="193.2" y2="785.6" stroke="#a40028" stroke-width="1.6"/><line x1="187.2" y1="817.4" x2="193.2" y2="817.4" stroke="#a40028" stroke-width="1.6"/>
<line x1="209.0" y1="756.4" x2="209.0" y2="765.4" stroke="#a40028" stroke-width="1.6"/><line x1="209.0" y1="778.2" x2="209.0" y2="788.1" stroke="#a40028" stroke-width="1.6"/><line x1="206.0" y1="756.4" x2="212.0" y2="756.4" stroke="#a40028" stroke-width="1.6"/><line x1="206.0" y1="788.1" x2="212.0" y2="788.1" stroke="#a40028" stroke-width="1.6"/>
<line x1="230.4" y1="777.1" x2="230.4" y2="784.4" stroke="#a40028" stroke-width="1.6"/><line x1="230.4" y1="797.2" x2="230.4" y2="805.3" stroke="#a40028" stroke-width="1.6"/><line x1="227.4" y1="777.1" x2="233.4" y2="777.1" stroke="#a40028" stroke-width="1.6"/><line x1="227.4" y1="805.3" x2="233.4" y2="805.3" stroke="#a40028" stroke-width="1.6"/>
<line x1="253.6" y1="771.1" x2="253.6" y2="778.4" stroke="#a40028" stroke-width="1.6"/><line x1="253.6" y1="791.2" x2="253.6" y2="799.2" stroke="#a40028" stroke-width="1.6"/><line x1="250.6" y1="771.1" x2="256.6" y2="771.1" stroke="#a40028" stroke-width="1.6"/><line x1="250.6" y1="799.2" x2="256.6" y2="799.2" stroke="#a40028" stroke-width="1.6"/>
<line x1="281.1" y1="777.1" x2="281.1" y2="784.4" stroke="#a40028" stroke-width="1.6"/><line x1="281.1" y1="797.2" x2="281.1" y2="805.3" stroke="#a40028" stroke-width="1.6"/><line x1="278.1" y1="777.1" x2="284.1" y2="777.1" stroke="#a40028" stroke-width="1.6"/><line x1="278.1" y1="805.3" x2="284.1" y2="805.3" stroke="#a40028" stroke-width="1.6"/>
<line x1="313.2" y1="819.3" x2="313.2" y2="834.6" stroke="#a40028" stroke-width="1.6"/><line x1="313.2" y1="847.4" x2="313.2" y2="865.3" stroke="#a40028" stroke-width="1.6"/><line x1="310.2" y1="819.3" x2="316.2" y2="819.3" stroke="#a40028" stroke-width="1.6"/><line x1="310.2" y1="865.3" x2="316.2" y2="865.3" stroke="#a40028" stroke-width="1.6"/>
<line x1="350.1" y1="787.9" x2="350.1" y2="801.6" stroke="#a40028" stroke-width="1.6"/><line x1="350.1" y1="814.4" x2="350.1" y2="830.3" stroke="#a40028" stroke-width="1.6"/><line x1="347.1" y1="787.9" x2="353.1" y2="787.9" stroke="#a40028" stroke-width="1.6"/><line x1="347.1" y1="830.3" x2="353.1" y2="830.3" stroke="#a40028" stroke-width="1.6"/>
<line x1="392.1" y1="783.9" x2="392.1" y2="806.7" stroke="#a40028" stroke-width="1.6"/><line x1="392.1" y1="819.5" x2="392.1" y2="847.8" stroke="#a40028" stroke-width="1.6"/><line x1="389.1" y1="783.9" x2="395.1" y2="783.9" stroke="#a40028" stroke-width="1.6"/><line x1="389.1" y1="847.8" x2="395.1" y2="847.8" stroke="#a40028" stroke-width="1.6"/>
<line x1="572.3" y1="883.9" x2="572.3" y2="929.1" stroke="#a40028" stroke-width="1.6"/><line x1="572.3" y1="941.9" x2="572.3" y2="1008.3" stroke="#a40028" stroke-width="1.6"/><line x1="569.3" y1="883.9" x2="575.3" y2="883.9" stroke="#a40028" stroke-width="1.6"/><line x1="569.3" y1="1008.3" x2="575.3" y2="1008.3" stroke="#a40028" stroke-width="1.6"/>
<polygon points="110.7,872.0 104.9,883.3 116.5,883.3" fill="none" stroke="#a40028" stroke-width="1.6"/>
<polygon points="123.2,765.1 117.4,776.4 129.0,776.4" fill="none" stroke="#a40028" stroke-width="1.6"/>
<polygon points="134.0,820.5 128.2,831.8 139.8,831.8" fill="none" stroke="#a40028" stroke-width="1.6"/>
<polygon points="145.9,779.4 140.1,790.7 151.7,790.7" fill="none" stroke="#a40028" stroke-width="1.6"/>
<polygon points="159.3,785.6 153.5,796.9 165.1,796.9" fill="none" stroke="#a40028" stroke-width="1.6"/>
<polygon points="173.9,777.4 168.1,788.7 179.7,788.7" fill="none" stroke="#a40028" stroke-width="1.6"/>
<polygon points="190.2,795.3 184.4,806.6 196.0,806.6" fill="none" stroke="#a40028" stroke-width="1.6"/>
<polygon points="209.0,766.1 203.2,777.4 214.8,777.4" fill="none" stroke="#a40028" stroke-width="1.6"/>
<polygon points="230.4,785.1 224.6,796.4 236.2,796.4" fill="none" stroke="#a40028" stroke-width="1.6"/>
<polygon points="253.6,779.1 247.8,790.4 259.4,790.4" fill="none" stroke="#a40028" stroke-width="1.6"/>
<polygon points="281.1,785.1 275.3,796.4 286.9,796.4" fill="none" stroke="#a40028" stroke-width="1.6"/>
<polygon points="313.2,835.3 307.4,846.6 319.0,846.6" fill="none" stroke="#a40028" stroke-width="1.6"/>
<polygon points="350.1,802.3 344.3,813.6 355.9,813.6" fill="none" stroke="#a40028" stroke-width="1.6"/>
<polygon points="392.1,807.4 386.3,818.7 397.9,818.7" fill="none" stroke="#a40028" stroke-width="1.6"/>
<polygon points="572.3,929.8 566.5,941.1 578.1,941.1" fill="none" stroke="#a40028" stroke-width="1.6"/>
<polyline points="110.7,879.8 123.2,793.2 134.0,818.1 145.9,819.5 159.3,784.4 173.9,790.8 190.2,774.6 209.0,797.6 230.4,783.9 253.6,777.8 281.1,773.9 313.2,833.3 350.1,799.5 392.1,875.6 572.3,864.1" fill="none" stroke="#00ff00" stroke-width="1.8"/>
<line x1="110.7" y1="839.2" x2="110.7" y2="875.6" stroke="#00ff00" stroke-width="1.8"/><line x1="110.7" y1="883.7" x2="110.7" y2="932.7" stroke="#00ff00" stroke-width="1.8"/><line x1="107.7" y1="839.2" x2="113.7" y2="839.2" stroke="#00ff00" stroke-width="1.8"/><line x1="107.7" y1="932.7" x2="113.7" y2="932.7" stroke="#00ff00" stroke-width="1.8"/>
<line x1="123.2" y1="752.6" x2="123.2" y2="789.0" stroke="#00ff00" stroke-width="1.8"/><line x1="123.2" y1="797.1" x2="123.2" y2="846.1" stroke="#00ff00" stroke-width="1.8"/><line x1="120.2" y1="752.6" x2="126.2" y2="752.6" stroke="#00ff00" stroke-width="1.8"/><line x1="120.2" y1="846.1" x2="126.2" y2="846.1" stroke="#00ff00" stroke-width="1.8"/>
<line x1="134.0" y1="786.0" x2="134.0" y2="813.9" stroke="#00ff00" stroke-width="1.8"/><line x1="134.0" y1="822.0" x2="134.0" y2="857.3" stroke="#00ff00" stroke-width="1.8"/><line x1="131.0" y1="786.0" x2="137.0" y2="786.0" stroke="#00ff00" stroke-width="1.8"/><line x1="131.0" y1="857.3" x2="137.0" y2="857.3" stroke="#00ff00" stroke-width="1.8"/>
<line x1="145.9" y1="794.9" x2="145.9" y2="815.3" stroke="#00ff00" stroke-width="1.8"/><line x1="145.9" y1="823.4" x2="145.9" y2="848.0" stroke="#00ff00" stroke-width="1.8"/><line x1="142.9" y1="794.9" x2="148.9" y2="794.9" stroke="#00ff00" stroke-width="1.8"/><line x1="142.9" y1="848.0" x2="148.9" y2="848.0" stroke="#00ff00" stroke-width="1.8"/>
<line x1="159.3" y1="769.3" x2="159.3" y2="780.2" stroke="#00ff00" stroke-width="1.8"/><line x1="159.3" y1="788.3" x2="159.3" y2="801.0" stroke="#00ff00" stroke-width="1.8"/><line x1="156.3" y1="769.3" x2="162.3" y2="769.3" stroke="#00ff00" stroke-width="1.8"/><line x1="156.3" y1="801.0" x2="162.3" y2="801.0" stroke="#00ff00" stroke-width="1.8"/>
<line x1="173.9" y1="774.0" x2="173.9" y2="786.6" stroke="#00ff00" stroke-width="1.8"/><line x1="173.9" y1="794.7" x2="173.9" y2="809.3" stroke="#00ff00" stroke-width="1.8"/><line x1="170.9" y1="774.0" x2="176.9" y2="774.0" stroke="#00ff00" stroke-width="1.8"/><line x1="170.9" y1="809.3" x2="176.9" y2="809.3" stroke="#00ff00" stroke-width="1.8"/>
<line x1="190.2" y1="757.9" x2="190.2" y2="770.4" stroke="#00ff00" stroke-width="1.8"/><line x1="190.2" y1="778.5" x2="190.2" y2="793.1" stroke="#00ff00" stroke-width="1.8"/><line x1="187.2" y1="757.9" x2="193.2" y2="757.9" stroke="#00ff00" stroke-width="1.8"/><line x1="187.2" y1="793.1" x2="193.2" y2="793.1" stroke="#00ff00" stroke-width="1.8"/>
<line x1="209.0" y1="784.0" x2="209.0" y2="793.4" stroke="#00ff00" stroke-width="1.8"/><line x1="209.0" y1="801.5" x2="209.0" y2="812.2" stroke="#00ff00" stroke-width="1.8"/><line x1="206.0" y1="784.0" x2="212.0" y2="784.0" stroke="#00ff00" stroke-width="1.8"/><line x1="206.0" y1="812.2" x2="212.0" y2="812.2" stroke="#00ff00" stroke-width="1.8"/>
<line x1="230.4" y1="770.4" x2="230.4" y2="779.7" stroke="#00ff00" stroke-width="1.8"/><line x1="230.4" y1="787.8" x2="230.4" y2="798.6" stroke="#00ff00" stroke-width="1.8"/><line x1="227.4" y1="770.4" x2="233.4" y2="770.4" stroke="#00ff00" stroke-width="1.8"/><line x1="227.4" y1="798.6" x2="233.4" y2="798.6" stroke="#00ff00" stroke-width="1.8"/>
<line x1="253.6" y1="764.3" x2="253.6" y2="773.6" stroke="#00ff00" stroke-width="1.8"/><line x1="253.6" y1="781.7" x2="253.6" y2="792.4" stroke="#00ff00" stroke-width="1.8"/><line x1="250.6" y1="764.3" x2="256.6" y2="764.3" stroke="#00ff00" stroke-width="1.8"/><line x1="250.6" y1="792.4" x2="256.6" y2="792.4" stroke="#00ff00" stroke-width="1.8"/>
<line x1="281.1" y1="757.1" x2="281.1" y2="769.7" stroke="#00ff00" stroke-width="1.8"/><line x1="281.1" y1="777.8" x2="281.1" y2="792.4" stroke="#00ff00" stroke-width="1.8"/><line x1="278.1" y1="757.1" x2="284.1" y2="757.1" stroke="#00ff00" stroke-width="1.8"/><line x1="278.1" y1="792.4" x2="284.1" y2="792.4" stroke="#00ff00" stroke-width="1.8"/>
<line x1="313.2" y1="813.3" x2="313.2" y2="829.1" stroke="#00ff00" stroke-width="1.8"/><line x1="313.2" y1="837.2" x2="313.2" y2="855.7" stroke="#00ff00" stroke-width="1.8"/><line x1="310.2" y1="813.3" x2="316.2" y2="813.3" stroke="#00ff00" stroke-width="1.8"/><line x1="310.2" y1="855.7" x2="316.2" y2="855.7" stroke="#00ff00" stroke-width="1.8"/>
<line x1="350.1" y1="778.1" x2="350.1" y2="795.3" stroke="#00ff00" stroke-width="1.8"/><line x1="350.1" y1="803.4" x2="350.1" y2="824.0" stroke="#00ff00" stroke-width="1.8"/><line x1="347.1" y1="778.1" x2="353.1" y2="778.1" stroke="#00ff00" stroke-width="1.8"/><line x1="347.1" y1="824.0" x2="353.1" y2="824.0" stroke="#00ff00" stroke-width="1.8"/>
<line x1="392.1" y1="840.6" x2="392.1" y2="871.4" stroke="#00ff00" stroke-width="1.8"/><line x1="392.1" y1="879.5" x2="392.1" y2="919.2" stroke="#00ff00" stroke-width="1.8"/><line x1="389.1" y1="840.6" x2="395.1" y2="840.6" stroke="#00ff00" stroke-width="1.8"/><line x1="389.1" y1="919.2" x2="395.1" y2="919.2" stroke="#00ff00" stroke-width="1.8"/>
<line x1="572.3" y1="818.0" x2="572.3" y2="859.9" stroke="#00ff00" stroke-width="1.8"/><line x1="572.3" y1="868.0" x2="572.3" y2="926.7" stroke="#00ff00" stroke-width="1.8"/><line x1="569.3" y1="818.0" x2="575.3" y2="818.0" stroke="#00ff00" stroke-width="1.8"/><line x1="569.3" y1="926.7" x2="575.3" y2="926.7" stroke="#00ff00" stroke-width="1.8"/>
<polygon points="110.7,875.6 106.5,883.7 114.9,883.7" fill="#00ff00"/>
<polygon points="123.2,789.0 119.0,797.1 127.4,797.1" fill="#00ff00"/>
<polygon points="134.0,813.9 129.8,822.0 138.2,822.0" fill="#00ff00"/>
<polygon points="145.9,815.3 141.7,823.4 150.1,823.4" fill="#00ff00"/>
<polygon points="159.3,780.2 155.1,788.3 163.5,788.3" fill="#00ff00"/>
<polygon points="173.9,786.6 169.7,794.7 178.1,794.7" fill="#00ff00"/>
<polygon points="190.2,770.4 186.0,778.5 194.4,778.5" fill="#00ff00"/>
<polygon points="209.0,793.4 204.8,801.5 213.2,801.5" fill="#00ff00"/>
<polygon points="230.4,779.7 226.2,787.8 234.6,787.8" fill="#00ff00"/>
<polygon points="253.6,773.6 249.4,781.7 257.8,781.7" fill="#00ff00"/>
<polygon points="281.1,769.7 276.9,777.8 285.3,777.8" fill="#00ff00"/>
<polygon points="313.2,829.1 309.0,837.2 317.4,837.2" fill="#00ff00"/>
<polygon points="350.1,795.3 345.9,803.4 354.3,803.4" fill="#00ff00"/>
<polygon points="392.1,871.4 387.9,879.5 396.3,879.5" fill="#00ff00"/>
<polygon points="572.3,859.9 568.1,868.0 576.5,868.0" fill="#00ff00"/>
<polyline points="110.7,833.5 123.2,716.4 134.0,787.2 145.9,781.3 159.3,748.6 173.9,814.9 190.2,803.5 209.0,778.9 230.4,799.0 253.6,773.9 281.1,810.4 313.2,811.6 350.1,828.3 392.1,833.3 572.3,836.8" fill="none" stroke="#00ae00" stroke-width="1.6" stroke-dasharray="4.3,3.9"/>
<line x1="110.7" y1="794.3" x2="110.7" y2="829.4" stroke="#00ae00" stroke-width="1.6" stroke-dasharray="4.3,3.9"/><line x1="110.7" y1="837.4" x2="110.7" y2="884.0" stroke="#00ae00" stroke-width="1.6" stroke-dasharray="4.3,3.9"/><line x1="107.7" y1="794.3" x2="113.7" y2="794.3" stroke="#00ae00" stroke-width="1.6"/><line x1="107.7" y1="884.0" x2="113.7" y2="884.0" stroke="#00ae00" stroke-width="1.6"/>
<line x1="123.2" y1="684.4" x2="123.2" y2="712.3" stroke="#00ae00" stroke-width="1.6" stroke-dasharray="4.3,3.9"/><line x1="123.2" y1="720.3" x2="123.2" y2="755.6" stroke="#00ae00" stroke-width="1.6" stroke-dasharray="4.3,3.9"/><line x1="120.2" y1="684.4" x2="126.2" y2="684.4" stroke="#00ae00" stroke-width="1.6"/><line x1="120.2" y1="755.6" x2="126.2" y2="755.6" stroke="#00ae00" stroke-width="1.6"/>
<line x1="134.0" y1="758.2" x2="134.0" y2="783.1" stroke="#00ae00" stroke-width="1.6" stroke-dasharray="4.3,3.9"/><line x1="134.0" y1="791.1" x2="134.0" y2="822.1" stroke="#00ae00" stroke-width="1.6" stroke-dasharray="4.3,3.9"/><line x1="131.0" y1="758.2" x2="137.0" y2="758.2" stroke="#00ae00" stroke-width="1.6"/><line x1="131.0" y1="822.1" x2="137.0" y2="822.1" stroke="#00ae00" stroke-width="1.6"/>
<line x1="145.9" y1="758.3" x2="145.9" y2="777.2" stroke="#00ae00" stroke-width="1.6" stroke-dasharray="4.3,3.9"/><line x1="145.9" y1="785.2" x2="145.9" y2="807.8" stroke="#00ae00" stroke-width="1.6" stroke-dasharray="4.3,3.9"/><line x1="142.9" y1="758.3" x2="148.9" y2="758.3" stroke="#00ae00" stroke-width="1.6"/><line x1="142.9" y1="807.8" x2="148.9" y2="807.8" stroke="#00ae00" stroke-width="1.6"/>
<line x1="159.3" y1="731.9" x2="159.3" y2="744.5" stroke="#00ae00" stroke-width="1.6" stroke-dasharray="4.3,3.9"/><line x1="159.3" y1="752.5" x2="159.3" y2="767.1" stroke="#00ae00" stroke-width="1.6" stroke-dasharray="4.3,3.9"/><line x1="156.3" y1="731.9" x2="162.3" y2="731.9" stroke="#00ae00" stroke-width="1.6"/><line x1="156.3" y1="767.1" x2="162.3" y2="767.1" stroke="#00ae00" stroke-width="1.6"/>
<line x1="173.9" y1="795.0" x2="173.9" y2="810.8" stroke="#00ae00" stroke-width="1.6" stroke-dasharray="4.3,3.9"/><line x1="173.9" y1="818.8" x2="173.9" y2="837.4" stroke="#00ae00" stroke-width="1.6" stroke-dasharray="4.3,3.9"/><line x1="170.9" y1="795.0" x2="176.9" y2="795.0" stroke="#00ae00" stroke-width="1.6"/><line x1="170.9" y1="837.4" x2="176.9" y2="837.4" stroke="#00ae00" stroke-width="1.6"/>
<line x1="190.2" y1="786.8" x2="190.2" y2="799.4" stroke="#00ae00" stroke-width="1.6" stroke-dasharray="4.3,3.9"/><line x1="190.2" y1="807.4" x2="190.2" y2="822.0" stroke="#00ae00" stroke-width="1.6" stroke-dasharray="4.3,3.9"/><line x1="187.2" y1="786.8" x2="193.2" y2="786.8" stroke="#00ae00" stroke-width="1.6"/><line x1="187.2" y1="822.0" x2="193.2" y2="822.0" stroke="#00ae00" stroke-width="1.6"/>
<line x1="209.0" y1="765.4" x2="209.0" y2="774.8" stroke="#00ae00" stroke-width="1.6" stroke-dasharray="4.3,3.9"/><line x1="209.0" y1="782.8" x2="209.0" y2="793.5" stroke="#00ae00" stroke-width="1.6" stroke-dasharray="4.3,3.9"/><line x1="206.0" y1="765.4" x2="212.0" y2="765.4" stroke="#00ae00" stroke-width="1.6"/><line x1="206.0" y1="793.5" x2="212.0" y2="793.5" stroke="#00ae00" stroke-width="1.6"/>
<line x1="230.4" y1="785.5" x2="230.4" y2="794.9" stroke="#00ae00" stroke-width="1.6" stroke-dasharray="4.3,3.9"/><line x1="230.4" y1="802.9" x2="230.4" y2="813.6" stroke="#00ae00" stroke-width="1.6" stroke-dasharray="4.3,3.9"/><line x1="227.4" y1="785.5" x2="233.4" y2="785.5" stroke="#00ae00" stroke-width="1.6"/><line x1="227.4" y1="813.6" x2="233.4" y2="813.6" stroke="#00ae00" stroke-width="1.6"/>
<line x1="253.6" y1="760.3" x2="253.6" y2="769.8" stroke="#00ae00" stroke-width="1.6" stroke-dasharray="4.3,3.9"/><line x1="253.6" y1="777.8" x2="253.6" y2="788.5" stroke="#00ae00" stroke-width="1.6" stroke-dasharray="4.3,3.9"/><line x1="250.6" y1="760.3" x2="256.6" y2="760.3" stroke="#00ae00" stroke-width="1.6"/><line x1="250.6" y1="788.5" x2="256.6" y2="788.5" stroke="#00ae00" stroke-width="1.6"/>
<line x1="281.1" y1="790.5" x2="281.1" y2="806.3" stroke="#00ae00" stroke-width="1.6" stroke-dasharray="4.3,3.9"/><line x1="281.1" y1="814.3" x2="281.1" y2="832.9" stroke="#00ae00" stroke-width="1.6" stroke-dasharray="4.3,3.9"/><line x1="278.1" y1="790.5" x2="284.1" y2="790.5" stroke="#00ae00" stroke-width="1.6"/><line x1="278.1" y1="832.9" x2="284.1" y2="832.9" stroke="#00ae00" stroke-width="1.6"/>
<line x1="313.2" y1="790.1" x2="313.2" y2="807.5" stroke="#00ae00" stroke-width="1.6" stroke-dasharray="4.3,3.9"/><line x1="313.2" y1="815.5" x2="313.2" y2="836.1" stroke="#00ae00" stroke-width="1.6" stroke-dasharray="4.3,3.9"/><line x1="310.2" y1="790.1" x2="316.2" y2="790.1" stroke="#00ae00" stroke-width="1.6"/><line x1="310.2" y1="836.1" x2="316.2" y2="836.1" stroke="#00ae00" stroke-width="1.6"/>
<line x1="350.1" y1="806.9" x2="350.1" y2="824.2" stroke="#00ae00" stroke-width="1.6" stroke-dasharray="4.3,3.9"/><line x1="350.1" y1="832.2" x2="350.1" y2="852.8" stroke="#00ae00" stroke-width="1.6" stroke-dasharray="4.3,3.9"/><line x1="347.1" y1="806.9" x2="353.1" y2="806.9" stroke="#00ae00" stroke-width="1.6"/><line x1="347.1" y1="852.8" x2="353.1" y2="852.8" stroke="#00ae00" stroke-width="1.6"/>
<line x1="392.1" y1="804.2" x2="392.1" y2="829.2" stroke="#00ae00" stroke-width="1.6" stroke-dasharray="4.3,3.9"/><line x1="392.1" y1="837.2" x2="392.1" y2="868.1" stroke="#00ae00" stroke-width="1.6" stroke-dasharray="4.3,3.9"/><line x1="389.1" y1="804.2" x2="395.1" y2="804.2" stroke="#00ae00" stroke-width="1.6"/><line x1="389.1" y1="868.1" x2="395.1" y2="868.1" stroke="#00ae00" stroke-width="1.6"/>
<line x1="572.3" y1="793.4" x2="572.3" y2="832.7" stroke="#00ae00" stroke-width="1.6" stroke-dasharray="4.3,3.9"/><line x1="572.3" y1="840.7" x2="572.3" y2="894.5" stroke="#00ae00" stroke-width="1.6" stroke-dasharray="4.3,3.9"/><line x1="569.3" y1="793.4" x2="575.3" y2="793.4" stroke="#00ae00" stroke-width="1.6"/><line x1="569.3" y1="894.5" x2="575.3" y2="894.5" stroke="#00ae00" stroke-width="1.6"/>
<polygon points="110.7,837.4 106.5,829.4 114.9,829.4" fill="#00ae00"/>
<polygon points="123.2,720.3 119.0,712.3 127.4,712.3" fill="#00ae00"/>
<polygon points="134.0,791.1 129.8,783.1 138.2,783.1" fill="#00ae00"/>
<polygon points="145.9,785.2 141.7,777.2 150.1,777.2" fill="#00ae00"/>
<polygon points="159.3,752.5 155.1,744.5 163.5,744.5" fill="#00ae00"/>
<polygon points="173.9,818.8 169.7,810.8 178.1,810.8" fill="#00ae00"/>
<polygon points="190.2,807.4 186.0,799.4 194.4,799.4" fill="#00ae00"/>
<polygon points="209.0,782.8 204.8,774.8 213.2,774.8" fill="#00ae00"/>
<polygon points="230.4,802.9 226.2,794.9 234.6,794.9" fill="#00ae00"/>
<polygon points="253.6,777.8 249.4,769.8 257.8,769.8" fill="#00ae00"/>
<polygon points="281.1,814.3 276.9,806.3 285.3,806.3" fill="#00ae00"/>
<polygon points="313.2,815.5 309.0,807.5 317.4,807.5" fill="#00ae00"/>
<polygon points="350.1,832.2 345.9,824.2 354.3,824.2" fill="#00ae00"/>
<polygon points="392.1,837.2 387.9,829.2 396.3,829.2" fill="#00ae00"/>
<polygon points="572.3,840.7 568.1,832.7 576.5,832.7" fill="#00ae00"/>
<polyline points="110.7,774.0 123.2,667.1 134.0,767.9 145.9,795.3 159.3,735.7 173.9,734.7 190.2,782.0 209.0,811.2 230.4,823.7 253.6,813.5 281.1,862.8 313.2,836.5 350.1,847.3 392.1,847.3 572.3,806.5" fill="none" stroke="#3c3c3c" stroke-width="1.6"/>
<line x1="110.7" y1="742.0" x2="110.7" y2="769.0" stroke="#3c3c3c" stroke-width="1.6"/><line x1="110.7" y1="779.0" x2="110.7" y2="813.2" stroke="#3c3c3c" stroke-width="1.6"/><line x1="107.7" y1="742.0" x2="113.7" y2="742.0" stroke="#3c3c3c" stroke-width="1.6"/><line x1="107.7" y1="813.2" x2="113.7" y2="813.2" stroke="#3c3c3c" stroke-width="1.6"/>
<line x1="123.2" y1="636.6" x2="123.2" y2="662.1" stroke="#3c3c3c" stroke-width="1.6"/><line x1="123.2" y1="672.1" x2="123.2" y2="704.2" stroke="#3c3c3c" stroke-width="1.6"/><line x1="120.2" y1="636.6" x2="126.2" y2="636.6" stroke="#3c3c3c" stroke-width="1.6"/><line x1="120.2" y1="704.2" x2="126.2" y2="704.2" stroke="#3c3c3c" stroke-width="1.6"/>
<line x1="134.0" y1="740.3" x2="134.0" y2="762.9" stroke="#3c3c3c" stroke-width="1.6"/><line x1="134.0" y1="772.9" x2="134.0" y2="800.7" stroke="#3c3c3c" stroke-width="1.6"/><line x1="131.0" y1="740.3" x2="137.0" y2="740.3" stroke="#3c3c3c" stroke-width="1.6"/><line x1="131.0" y1="800.7" x2="137.0" y2="800.7" stroke="#3c3c3c" stroke-width="1.6"/>
<line x1="145.9" y1="772.3" x2="145.9" y2="790.3" stroke="#3c3c3c" stroke-width="1.6"/><line x1="145.9" y1="800.3" x2="145.9" y2="821.8" stroke="#3c3c3c" stroke-width="1.6"/><line x1="142.9" y1="772.3" x2="148.9" y2="772.3" stroke="#3c3c3c" stroke-width="1.6"/><line x1="142.9" y1="821.8" x2="148.9" y2="821.8" stroke="#3c3c3c" stroke-width="1.6"/>
<line x1="159.3" y1="718.9" x2="159.3" y2="730.7" stroke="#3c3c3c" stroke-width="1.6"/><line x1="159.3" y1="740.7" x2="159.3" y2="754.2" stroke="#3c3c3c" stroke-width="1.6"/><line x1="156.3" y1="718.9" x2="162.3" y2="718.9" stroke="#3c3c3c" stroke-width="1.6"/><line x1="156.3" y1="754.2" x2="162.3" y2="754.2" stroke="#3c3c3c" stroke-width="1.6"/>
<line x1="173.9" y1="718.0" x2="173.9" y2="729.7" stroke="#3c3c3c" stroke-width="1.6"/><line x1="173.9" y1="739.7" x2="173.9" y2="753.2" stroke="#3c3c3c" stroke-width="1.6"/><line x1="170.9" y1="718.0" x2="176.9" y2="718.0" stroke="#3c3c3c" stroke-width="1.6"/><line x1="170.9" y1="753.2" x2="176.9" y2="753.2" stroke="#3c3c3c" stroke-width="1.6"/>
<line x1="190.2" y1="766.8" x2="190.2" y2="777.0" stroke="#3c3c3c" stroke-width="1.6"/><line x1="190.2" y1="787.0" x2="190.2" y2="798.5" stroke="#3c3c3c" stroke-width="1.6"/><line x1="187.2" y1="766.8" x2="193.2" y2="766.8" stroke="#3c3c3c" stroke-width="1.6"/><line x1="187.2" y1="798.5" x2="193.2" y2="798.5" stroke="#3c3c3c" stroke-width="1.6"/>
<line x1="209.0" y1="794.5" x2="209.0" y2="806.2" stroke="#3c3c3c" stroke-width="1.6"/><line x1="209.0" y1="816.2" x2="209.0" y2="829.7" stroke="#3c3c3c" stroke-width="1.6"/><line x1="206.0" y1="794.5" x2="212.0" y2="794.5" stroke="#3c3c3c" stroke-width="1.6"/><line x1="206.0" y1="829.7" x2="212.0" y2="829.7" stroke="#3c3c3c" stroke-width="1.6"/>
<line x1="230.4" y1="805.4" x2="230.4" y2="818.7" stroke="#3c3c3c" stroke-width="1.6"/><line x1="230.4" y1="828.7" x2="230.4" y2="844.2" stroke="#3c3c3c" stroke-width="1.6"/><line x1="227.4" y1="805.4" x2="233.4" y2="805.4" stroke="#3c3c3c" stroke-width="1.6"/><line x1="227.4" y1="844.2" x2="233.4" y2="844.2" stroke="#3c3c3c" stroke-width="1.6"/>
<line x1="253.6" y1="795.2" x2="253.6" y2="808.5" stroke="#3c3c3c" stroke-width="1.6"/><line x1="253.6" y1="818.5" x2="253.6" y2="834.0" stroke="#3c3c3c" stroke-width="1.6"/><line x1="250.6" y1="795.2" x2="256.6" y2="795.2" stroke="#3c3c3c" stroke-width="1.6"/><line x1="250.6" y1="834.0" x2="256.6" y2="834.0" stroke="#3c3c3c" stroke-width="1.6"/>
<line x1="281.1" y1="841.3" x2="281.1" y2="857.8" stroke="#3c3c3c" stroke-width="1.6"/><line x1="281.1" y1="867.8" x2="281.1" y2="887.2" stroke="#3c3c3c" stroke-width="1.6"/><line x1="278.1" y1="841.3" x2="284.1" y2="841.3" stroke="#3c3c3c" stroke-width="1.6"/><line x1="278.1" y1="887.2" x2="284.1" y2="887.2" stroke="#3c3c3c" stroke-width="1.6"/>
<line x1="313.2" y1="813.5" x2="313.2" y2="831.5" stroke="#3c3c3c" stroke-width="1.6"/><line x1="313.2" y1="841.5" x2="313.2" y2="863.0" stroke="#3c3c3c" stroke-width="1.6"/><line x1="310.2" y1="813.5" x2="316.2" y2="813.5" stroke="#3c3c3c" stroke-width="1.6"/><line x1="310.2" y1="863.0" x2="316.2" y2="863.0" stroke="#3c3c3c" stroke-width="1.6"/>
<line x1="350.1" y1="822.7" x2="350.1" y2="842.3" stroke="#3c3c3c" stroke-width="1.6"/><line x1="350.1" y1="852.3" x2="350.1" y2="875.8" stroke="#3c3c3c" stroke-width="1.6"/><line x1="347.1" y1="822.7" x2="353.1" y2="822.7" stroke="#3c3c3c" stroke-width="1.6"/><line x1="347.1" y1="875.8" x2="353.1" y2="875.8" stroke="#3c3c3c" stroke-width="1.6"/>
<line x1="392.1" y1="815.2" x2="392.1" y2="842.3" stroke="#3c3c3c" stroke-width="1.6"/><line x1="392.1" y1="852.3" x2="392.1" y2="886.5" stroke="#3c3c3c" stroke-width="1.6"/><line x1="389.1" y1="815.2" x2="395.1" y2="815.2" stroke="#3c3c3c" stroke-width="1.6"/><line x1="389.1" y1="886.5" x2="395.1" y2="886.5" stroke="#3c3c3c" stroke-width="1.6"/>
<line x1="572.3" y1="768.7" x2="572.3" y2="801.5" stroke="#3c3c3c" stroke-width="1.6"/><line x1="572.3" y1="811.5" x2="572.3" y2="854.7" stroke="#3c3c3c" stroke-width="1.6"/><line x1="569.3" y1="768.7" x2="575.3" y2="768.7" stroke="#3c3c3c" stroke-width="1.6"/><line x1="569.3" y1="854.7" x2="575.3" y2="854.7" stroke="#3c3c3c" stroke-width="1.6"/>
<circle cx="110.7" cy="774.0" r="4.2" fill="none" stroke="#3c3c3c" stroke-width="1.7"/>
<circle cx="123.2" cy="667.1" r="4.2" fill="none" stroke="#3c3c3c" stroke-width="1.7"/>
<circle cx="134.0" cy="767.9" r="4.2" fill="none" stroke="#3c3c3c" stroke-width="1.7"/>
<circle cx="145.9" cy="795.3" r="4.2" fill="none" stroke="#3c3c3c" stroke-width="1.7"/>
<circle cx="159.3" cy="735.7" r="4.2" fill="none" stroke="#3c3c3c" stroke-width="1.7"/>
<circle cx="173.9" cy="734.7" r="4.2" fill="none" stroke="#3c3c3c" stroke-width="1.7"/>
<circle cx="190.2" cy="782.0" r="4.2" fill="none" stroke="#3c3c3c" stroke-width="1.7"/>
<circle cx="209.0" cy="811.2" r="4.2" fill="none" stroke="#3c3c3c" stroke-width="1.7"/>
<circle cx="230.4" cy="823.7" r="4.2" fill="none" stroke="#3c3c3c" stroke-width="1.7"/>
<circle cx="253.6" cy="813.5" r="4.2" fill="none" stroke="#3c3c3c" stroke-width="1.7"/>
<circle cx="281.1" cy="862.8" r="4.2" fill="none" stroke="#3c3c3c" stroke-width="1.7"/>
<circle cx="313.2" cy="836.5" r="4.2" fill="none" stroke="#3c3c3c" stroke-width="1.7"/>
<circle cx="350.1" cy="847.3" r="4.2" fill="none" stroke="#3c3c3c" stroke-width="1.7"/>
<circle cx="392.1" cy="847.3" r="4.2" fill="none" stroke="#3c3c3c" stroke-width="1.7"/>
<circle cx="572.3" cy="806.5" r="4.2" fill="none" stroke="#3c3c3c" stroke-width="1.7"/>
<polyline points="110.7,813.7 123.2,730.9 134.0,814.3 145.9,810.3 159.3,776.7 173.9,782.3 190.2,786.9 209.0,791.5 230.4,770.8 253.6,779.2 281.1,783.8 313.2,858.7 350.1,860.0 392.1,833.3 572.3,860.7" fill="none" stroke="#008000" stroke-width="1.7" stroke-dasharray="1.6,2.5"/>
<line x1="110.7" y1="774.5" x2="110.7" y2="808.5" stroke="#008000" stroke-width="1.7" stroke-dasharray="1.6,2.5"/><line x1="110.7" y1="818.0" x2="110.7" y2="864.3" stroke="#008000" stroke-width="1.7" stroke-dasharray="1.6,2.5"/><line x1="107.7" y1="774.5" x2="113.7" y2="774.5" stroke="#008000" stroke-width="1.7"/><line x1="107.7" y1="864.3" x2="113.7" y2="864.3" stroke="#008000" stroke-width="1.7"/>
<line x1="123.2" y1="698.9" x2="123.2" y2="725.7" stroke="#008000" stroke-width="1.7" stroke-dasharray="1.6,2.5"/><line x1="123.2" y1="735.2" x2="123.2" y2="770.1" stroke="#008000" stroke-width="1.7" stroke-dasharray="1.6,2.5"/><line x1="120.2" y1="698.9" x2="126.2" y2="698.9" stroke="#008000" stroke-width="1.7"/><line x1="120.2" y1="770.1" x2="126.2" y2="770.1" stroke="#008000" stroke-width="1.7"/>
<line x1="134.0" y1="785.2" x2="134.0" y2="809.1" stroke="#008000" stroke-width="1.7" stroke-dasharray="1.6,2.5"/><line x1="134.0" y1="818.6" x2="134.0" y2="849.2" stroke="#008000" stroke-width="1.7" stroke-dasharray="1.6,2.5"/><line x1="131.0" y1="785.2" x2="137.0" y2="785.2" stroke="#008000" stroke-width="1.7"/><line x1="131.0" y1="849.2" x2="137.0" y2="849.2" stroke="#008000" stroke-width="1.7"/>
<line x1="145.9" y1="787.2" x2="145.9" y2="805.1" stroke="#008000" stroke-width="1.7" stroke-dasharray="1.6,2.5"/><line x1="145.9" y1="814.6" x2="145.9" y2="836.8" stroke="#008000" stroke-width="1.7" stroke-dasharray="1.6,2.5"/><line x1="142.9" y1="787.2" x2="148.9" y2="787.2" stroke="#008000" stroke-width="1.7"/><line x1="142.9" y1="836.8" x2="148.9" y2="836.8" stroke="#008000" stroke-width="1.7"/>
<line x1="159.3" y1="759.9" x2="159.3" y2="771.5" stroke="#008000" stroke-width="1.7" stroke-dasharray="1.6,2.5"/><line x1="159.3" y1="781.0" x2="159.3" y2="795.2" stroke="#008000" stroke-width="1.7" stroke-dasharray="1.6,2.5"/><line x1="156.3" y1="759.9" x2="162.3" y2="759.9" stroke="#008000" stroke-width="1.7"/><line x1="156.3" y1="795.2" x2="162.3" y2="795.2" stroke="#008000" stroke-width="1.7"/>
<line x1="173.9" y1="765.5" x2="173.9" y2="777.1" stroke="#008000" stroke-width="1.7" stroke-dasharray="1.6,2.5"/><line x1="173.9" y1="786.6" x2="173.9" y2="800.8" stroke="#008000" stroke-width="1.7" stroke-dasharray="1.6,2.5"/><line x1="170.9" y1="765.5" x2="176.9" y2="765.5" stroke="#008000" stroke-width="1.7"/><line x1="170.9" y1="800.8" x2="176.9" y2="800.8" stroke="#008000" stroke-width="1.7"/>
<line x1="190.2" y1="770.2" x2="190.2" y2="781.7" stroke="#008000" stroke-width="1.7" stroke-dasharray="1.6,2.5"/><line x1="190.2" y1="791.2" x2="190.2" y2="805.4" stroke="#008000" stroke-width="1.7" stroke-dasharray="1.6,2.5"/><line x1="187.2" y1="770.2" x2="193.2" y2="770.2" stroke="#008000" stroke-width="1.7"/><line x1="187.2" y1="805.4" x2="193.2" y2="805.4" stroke="#008000" stroke-width="1.7"/>
<line x1="209.0" y1="777.9" x2="209.0" y2="786.3" stroke="#008000" stroke-width="1.7" stroke-dasharray="1.6,2.5"/><line x1="209.0" y1="795.8" x2="209.0" y2="806.1" stroke="#008000" stroke-width="1.7" stroke-dasharray="1.6,2.5"/><line x1="206.0" y1="777.9" x2="212.0" y2="777.9" stroke="#008000" stroke-width="1.7"/><line x1="206.0" y1="806.1" x2="212.0" y2="806.1" stroke="#008000" stroke-width="1.7"/>
<line x1="230.4" y1="755.7" x2="230.4" y2="765.6" stroke="#008000" stroke-width="1.7" stroke-dasharray="1.6,2.5"/><line x1="230.4" y1="775.1" x2="230.4" y2="787.4" stroke="#008000" stroke-width="1.7" stroke-dasharray="1.6,2.5"/><line x1="227.4" y1="755.7" x2="233.4" y2="755.7" stroke="#008000" stroke-width="1.7"/><line x1="227.4" y1="787.4" x2="233.4" y2="787.4" stroke="#008000" stroke-width="1.7"/>
<line x1="253.6" y1="764.1" x2="253.6" y2="774.0" stroke="#008000" stroke-width="1.7" stroke-dasharray="1.6,2.5"/><line x1="253.6" y1="783.5" x2="253.6" y2="795.8" stroke="#008000" stroke-width="1.7" stroke-dasharray="1.6,2.5"/><line x1="250.6" y1="764.1" x2="256.6" y2="764.1" stroke="#008000" stroke-width="1.7"/><line x1="250.6" y1="795.8" x2="256.6" y2="795.8" stroke="#008000" stroke-width="1.7"/>
<line x1="281.1" y1="768.6" x2="281.1" y2="778.6" stroke="#008000" stroke-width="1.7" stroke-dasharray="1.6,2.5"/><line x1="281.1" y1="788.1" x2="281.1" y2="800.3" stroke="#008000" stroke-width="1.7" stroke-dasharray="1.6,2.5"/><line x1="278.1" y1="768.6" x2="284.1" y2="768.6" stroke="#008000" stroke-width="1.7"/><line x1="278.1" y1="800.3" x2="284.1" y2="800.3" stroke="#008000" stroke-width="1.7"/>
<line x1="313.2" y1="835.7" x2="313.2" y2="853.5" stroke="#008000" stroke-width="1.7" stroke-dasharray="1.6,2.5"/><line x1="313.2" y1="863.0" x2="313.2" y2="885.2" stroke="#008000" stroke-width="1.7" stroke-dasharray="1.6,2.5"/><line x1="310.2" y1="835.7" x2="316.2" y2="835.7" stroke="#008000" stroke-width="1.7"/><line x1="310.2" y1="885.2" x2="316.2" y2="885.2" stroke="#008000" stroke-width="1.7"/>
<line x1="350.1" y1="832.4" x2="350.1" y2="854.8" stroke="#008000" stroke-width="1.7" stroke-dasharray="1.6,2.5"/><line x1="350.1" y1="864.3" x2="350.1" y2="892.7" stroke="#008000" stroke-width="1.7" stroke-dasharray="1.6,2.5"/><line x1="347.1" y1="832.4" x2="353.1" y2="832.4" stroke="#008000" stroke-width="1.7"/><line x1="347.1" y1="892.7" x2="353.1" y2="892.7" stroke="#008000" stroke-width="1.7"/>
<line x1="392.1" y1="801.2" x2="392.1" y2="828.1" stroke="#008000" stroke-width="1.7" stroke-dasharray="1.6,2.5"/><line x1="392.1" y1="837.6" x2="392.1" y2="872.5" stroke="#008000" stroke-width="1.7" stroke-dasharray="1.6,2.5"/><line x1="389.1" y1="801.2" x2="395.1" y2="801.2" stroke="#008000" stroke-width="1.7"/><line x1="389.1" y1="872.5" x2="395.1" y2="872.5" stroke="#008000" stroke-width="1.7"/>
<line x1="572.3" y1="814.6" x2="572.3" y2="855.5" stroke="#008000" stroke-width="1.7" stroke-dasharray="1.6,2.5"/><line x1="572.3" y1="865.0" x2="572.3" y2="923.4" stroke="#008000" stroke-width="1.7" stroke-dasharray="1.6,2.5"/><line x1="569.3" y1="814.6" x2="575.3" y2="814.6" stroke="#008000" stroke-width="1.7"/><line x1="569.3" y1="923.4" x2="575.3" y2="923.4" stroke="#008000" stroke-width="1.7"/>
<polygon points="110.7,809.0 111.9,812.4 115.6,812.5 112.7,814.8 113.7,818.3 110.7,816.2 107.7,818.3 108.7,814.8 105.8,812.5 109.5,812.4" fill="none" stroke="#008000" stroke-width="1.5" stroke-linejoin="miter" stroke-miterlimit="3"/>
<polygon points="123.2,726.2 124.4,729.6 128.1,729.7 125.2,731.9 126.2,735.4 123.2,733.4 120.2,735.4 121.2,731.9 118.3,729.7 122.0,729.6" fill="none" stroke="#008000" stroke-width="1.5" stroke-linejoin="miter" stroke-miterlimit="3"/>
<polygon points="134.0,809.6 135.2,813.0 138.9,813.1 136.0,815.4 137.0,818.8 134.0,816.8 131.0,818.8 132.0,815.4 129.1,813.1 132.8,813.0" fill="none" stroke="#008000" stroke-width="1.5" stroke-linejoin="miter" stroke-miterlimit="3"/>
<polygon points="145.9,805.6 147.1,809.0 150.8,809.1 147.9,811.3 148.9,814.8 145.9,812.8 142.9,814.8 143.9,811.3 141.0,809.1 144.7,809.0" fill="none" stroke="#008000" stroke-width="1.5" stroke-linejoin="miter" stroke-miterlimit="3"/>
<polygon points="159.3,772.0 160.5,775.4 164.2,775.5 161.3,777.7 162.3,781.2 159.3,779.2 156.3,781.2 157.3,777.7 154.4,775.5 158.1,775.4" fill="none" stroke="#008000" stroke-width="1.5" stroke-linejoin="miter" stroke-miterlimit="3"/>
<polygon points="173.9,777.6 175.1,781.0 178.8,781.1 175.9,783.3 176.9,786.8 173.9,784.8 170.9,786.8 171.9,783.3 169.0,781.1 172.7,781.0" fill="none" stroke="#008000" stroke-width="1.5" stroke-linejoin="miter" stroke-miterlimit="3"/>
<polygon points="190.2,782.2 191.4,785.6 195.1,785.7 192.2,787.9 193.2,791.4 190.2,789.4 187.2,791.4 188.2,787.9 185.3,785.7 189.0,785.6" fill="none" stroke="#008000" stroke-width="1.5" stroke-linejoin="miter" stroke-miterlimit="3"/>
<polygon points="209.0,786.8 210.2,790.2 213.9,790.3 211.0,792.5 212.0,796.0 209.0,794.0 206.0,796.0 207.0,792.5 204.1,790.3 207.8,790.2" fill="none" stroke="#008000" stroke-width="1.5" stroke-linejoin="miter" stroke-miterlimit="3"/>
<polygon points="230.4,766.1 231.6,769.5 235.3,769.6 232.4,771.8 233.4,775.3 230.4,773.3 227.4,775.3 228.4,771.8 225.5,769.6 229.2,769.5" fill="none" stroke="#008000" stroke-width="1.5" stroke-linejoin="miter" stroke-miterlimit="3"/>
<polygon points="253.6,774.5 254.8,777.9 258.5,778.0 255.6,780.3 256.6,783.7 253.6,781.7 250.6,783.7 251.6,780.3 248.7,778.0 252.4,777.9" fill="none" stroke="#008000" stroke-width="1.5" stroke-linejoin="miter" stroke-miterlimit="3"/>
<polygon points="281.1,779.1 282.3,782.5 286.0,782.6 283.1,784.8 284.1,788.3 281.1,786.3 278.1,788.3 279.1,784.8 276.2,782.6 279.9,782.5" fill="none" stroke="#008000" stroke-width="1.5" stroke-linejoin="miter" stroke-miterlimit="3"/>
<polygon points="313.2,854.0 314.4,857.4 318.1,857.5 315.2,859.8 316.2,863.2 313.2,861.2 310.2,863.2 311.2,859.8 308.3,857.5 312.0,857.4" fill="none" stroke="#008000" stroke-width="1.5" stroke-linejoin="miter" stroke-miterlimit="3"/>
<polygon points="350.1,855.3 351.3,858.7 355.0,858.8 352.1,861.0 353.1,864.5 350.1,862.5 347.1,864.5 348.1,861.0 345.2,858.8 348.9,858.7" fill="none" stroke="#008000" stroke-width="1.5" stroke-linejoin="miter" stroke-miterlimit="3"/>
<polygon points="392.1,828.6 393.3,832.0 397.0,832.1 394.1,834.3 395.1,837.8 392.1,835.8 389.1,837.8 390.1,834.3 387.2,832.1 390.9,832.0" fill="none" stroke="#008000" stroke-width="1.5" stroke-linejoin="miter" stroke-miterlimit="3"/>
<polygon points="572.3,856.0 573.5,859.4 577.2,859.6 574.3,861.8 575.3,865.3 572.3,863.2 569.3,865.3 570.3,861.8 567.4,859.6 571.1,859.4" fill="none" stroke="#008000" stroke-width="1.5" stroke-linejoin="miter" stroke-miterlimit="3"/>
</g>
<path d="M91,626.7h11M742,626.7h-11M91,615.9h11M742,615.9h-11M91,606.8h11M742,606.8h-11M91,598.9h11M742,598.9h-11M91,591.9h11M742,591.9h-11M91,585.7h22.6M742,585.7h-22.6M91,544.7h11M742,544.7h-11M91,520.8h11M742,520.8h-11M91,503.8h11M742,503.8h-11M91,490.6h11M742,490.6h-11M91,479.8h11M742,479.8h-11M91,470.7h11M742,470.7h-11M91,462.8h11M742,462.8h-11M91,455.8h11M742,455.8h-11M91,449.6h22.6M742,449.6h-22.6M91,408.6h11M742,408.6h-11M91,384.7h11M742,384.7h-11M91,367.7h11M742,367.7h-11M91,354.5h11M742,354.5h-11M91,343.7h11M742,343.7h-11M91,334.6h11M742,334.6h-11M91,326.7h11M742,326.7h-11M91,319.7h11M742,319.7h-11M91,313.5h22.6M742,313.5h-22.6M91,272.5h11M742,272.5h-11M91,248.6h11M742,248.6h-11M91,231.6h11M742,231.6h-11M91,218.4h11M742,218.4h-11M91,207.6h11M742,207.6h-11M91,198.5h11M742,198.5h-11M91,190.6h11M742,190.6h-11M91,183.6h11M742,183.6h-11M91,177.4h22.6M742,177.4h-22.6M91,136.4h11M742,136.4h-11M91,112.5h11M742,112.5h-11M91,95.5h11M742,95.5h-11M91,82.3h11M742,82.3h-11M91,71.5h11M742,71.5h-11M91,62.4h11M742,62.4h-11M91,54.5h11M742,54.5h-11M91,47.5h11M742,47.5h-11M91,41.3h22.6M742,41.3h-22.6M103.9,35v15.8M103.9,635v-15.8M103.9,635v10M103.9,956v-10M135.2,35v4M135.2,635v-4M135.2,635v2.5M135.2,956v-2.5M166.5,35v8M166.5,635v-8M166.5,635v5M166.5,956v-5M197.8,35v4M197.8,635v-4M197.8,635v2.5M197.8,956v-2.5M229.1,35v8M229.1,635v-8M229.1,635v5M229.1,956v-5M260.4,35v4M260.4,635v-4M260.4,635v2.5M260.4,956v-2.5M291.7,35v8M291.7,635v-8M291.7,635v5M291.7,956v-5M323.0,35v4M323.0,635v-4M323.0,635v2.5M323.0,956v-2.5M354.3,35v8M354.3,635v-8M354.3,635v5M354.3,956v-5M385.6,35v4M385.6,635v-4M385.6,635v2.5M385.6,956v-2.5M417.0,35v15.8M417.0,635v-15.8M417.0,635v10M417.0,956v-10M448.3,35v4M448.3,635v-4M448.3,635v2.5M448.3,956v-2.5M479.6,35v8M479.6,635v-8M479.6,635v5M479.6,956v-5M510.9,35v4M510.9,635v-4M510.9,635v2.5M510.9,956v-2.5M542.2,35v8M542.2,635v-8M542.2,635v5M542.2,956v-5M573.5,35v4M573.5,635v-4M573.5,635v2.5M573.5,956v-2.5M604.8,35v8M604.8,635v-8M604.8,635v5M604.8,956v-5M636.1,35v4M636.1,635v-4M636.1,635v2.5M636.1,956v-2.5M667.4,35v8M667.4,635v-8M667.4,635v5M667.4,956v-5M698.7,35v4M698.7,635v-4M698.7,635v2.5M698.7,956v-2.5M730.0,35v15.8M730.0,635v-15.8M730.0,635v10M730.0,956v-10M91,917.6h15M742,917.6h-15M91,885.5h10M742,885.5h-10M91,858.5h10M742,858.5h-10M91,835.0h10M742,835.0h-10M91,814.3h10M742,814.3h-10M91,795.8h15M742,795.8h-15M91,779.1h10M742,779.1h-10M91,763.8h10M742,763.8h-10M91,749.7h10M742,749.7h-10M91,736.7h10M742,736.7h-10M91,724.6h15M742,724.6h-15M91,713.2h10M742,713.2h-10M91,702.6h10M742,702.6h-10M91,692.5h10M742,692.5h-10M91,683.0h10M742,683.0h-10M91,674.0h15M742,674.0h-15M91,665.5h10M742,665.5h-10M91,657.3h10M742,657.3h-10M91,649.5h10M742,649.5h-10M91,642.0h10M742,642.0h-10" stroke="#000" stroke-width="1.45" fill="none"/>
<rect x="91" y="35" width="651" height="600" fill="none" stroke="#000" stroke-width="2"/>
<rect x="91" y="635" width="651" height="321" fill="none" stroke="#000" stroke-width="2"/>
<text x="102.96" y="28.90" font-size="24.2">13000 GeV pp</text>
<text x="730.3" y="28.9" font-size="24.2" text-anchor="end">Z+Jet</text>
<text x="198.20" y="88.50" font-size="23.5">Width λ_1</text>
<text x="299.80" y="76.80" font-size="14.5">1</text>
<text x="310.67" y="88.50" font-size="19.9">(charged only) (CMS jet substructure)</text>
<text x="46.62" y="52.20" font-size="22">10</text>
<text x="71.15" y="43.30" font-size="15">2</text>
<text x="54.92" y="186.10" font-size="22">10</text>
<text x="70.62" y="321.90" font-size="22">1</text>
<text x="41.52" y="461.20" font-size="22">10</text>
<text x="64.26" y="451.90" font-size="15">−</text>
<text x="72.46" y="450.90" font-size="15">1</text>
<text x="38.32" y="596.30" font-size="22">10</text>
<text x="61.46" y="587.90" font-size="15">−</text>
<text x="70.35" y="586.90" font-size="15">2</text>
<text x="63.41" y="682.90" font-size="23.6">2</text>
<text x="747.01" y="682.90" font-size="23.6">2</text>
<text x="64.70" y="804.80" font-size="23.6">1</text>
<text x="746.40" y="804.80" font-size="23.6">1</text>
<text x="44.68" y="925.30" font-size="23.6">0.5</text>
<text x="747.28" y="925.30" font-size="23.6">0.5</text>
<text x="97.28" y="978.00" font-size="23.6">0</text>
<text x="400.98" y="978.00" font-size="23.6">0.5</text>
<text x="724.50" y="977.80" font-size="23.6">1</text>
<text transform="translate(36.8,793.1) rotate(-90)" font-size="17.9" text-anchor="middle">Ratio to CMS</text>
<text transform="translate(759.6,254.3) rotate(-90)" font-size="19.4" textLength="218.5" lengthAdjust="spacingAndGlyphs" fill="#808080" class="g1">Rivet 4.1.0, ≥ 100k events</text>
<text transform="translate(761.7,629.4) rotate(-90)" font-size="19" fill="#808080" class="g1">mcplots.cern.ch [arXiv:1306.3436]</text>
<text x="416.5" y="604.3" font-size="15.6" fill="#999" class="g2" text-anchor="middle">(CMS_2021_I1920187)</text>
<rect x="147.7" y="390.7" width="10.6" height="10.6" fill="#000"/>
<line x1="128.7" y1="422.3" x2="176.6" y2="422.3" stroke="#00be82" stroke-width="1.4" stroke-dasharray="4.3,3.9"/>
<rect x="150.0" y="419.3" width="6.0" height="6.0" fill="#00be82"/>
<line x1="128.7" y1="447.9" x2="176.6" y2="447.9" stroke="#a40028" stroke-width="1.6"/>
<polygon points="153.0,442.4 147.2,453.7 158.8,453.7" fill="none" stroke="#a40028" stroke-width="1.6"/>
<line x1="128.7" y1="474.0" x2="176.6" y2="474.0" stroke="#00ff00" stroke-width="1.8"/>
<polygon points="153.0,469.8 148.8,477.9 157.2,477.9" fill="#00ff00"/>
<line x1="128.7" y1="500.0" x2="176.6" y2="500.0" stroke="#00ae00" stroke-width="1.6" stroke-dasharray="4.3,3.9"/>
<polygon points="153.0,503.9 148.8,495.9 157.2,495.9" fill="#00ae00"/>
<line x1="128.7" y1="526.1" x2="176.6" y2="526.1" stroke="#3c3c3c" stroke-width="1.6"/>
<circle cx="153.0" cy="526.1" r="4.2" fill="none" stroke="#3c3c3c" stroke-width="1.7"/>
<line x1="128.7" y1="552.1" x2="176.6" y2="552.1" stroke="#008000" stroke-width="1.7" stroke-dasharray="1.6,2.5"/>
<polygon points="153.0,547.4 154.2,550.8 157.9,550.9 155.0,553.1 156.0,556.6 153.0,554.6 150.0,556.6 151.0,553.1 148.1,550.9 151.8,550.8" fill="none" stroke="#008000" stroke-width="1.5" stroke-linejoin="miter" stroke-miterlimit="3"/>
<text x="187" y="401.9" font-size="19">CMS</text>
<text x="187" y="428.2" font-size="19">Pythia 6.428 359</text>
<text x="187" y="453.8" font-size="19">Pythia 6.428 370</text>
<text x="187" y="479.9" font-size="19">Pythia 6.428 a</text>
<text x="187" y="505.9" font-size="19">Pythia 6.428 dw</text>
<text x="187" y="532.0" font-size="19">Pythia 6.428 p0</text>
<text x="187" y="558.0" font-size="19">Pythia 6.428 pro-q2o</text>
</svg></body></html>
